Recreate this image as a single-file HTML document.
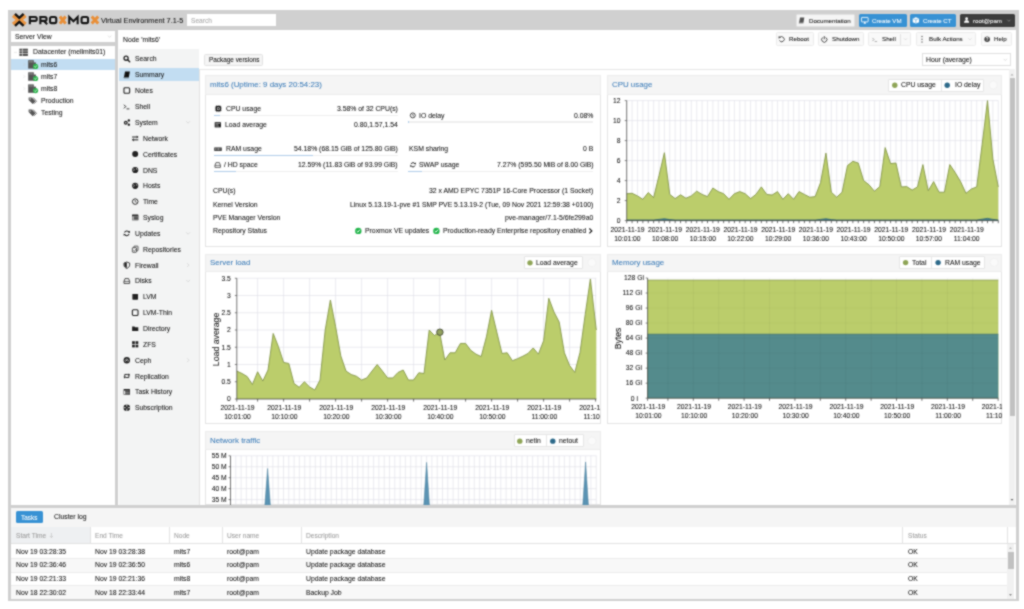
<!DOCTYPE html>
<html><head><meta charset="utf-8"><title>Proxmox VE</title>
<style>
html,body{margin:0;padding:0;width:1024px;height:609px;overflow:hidden;background:#fff;}
body{position:relative;font-family:"Liberation Sans",sans-serif;}
.t{position:absolute;white-space:nowrap;line-height:1;font-family:"Liberation Sans",sans-serif;will-change:transform;-webkit-text-stroke:0.06px;}
.r{position:absolute;}
.s{position:absolute;overflow:visible;}
#app{position:absolute;left:0;top:0;width:1024px;height:609px;overflow:hidden;background:#fff;filter:url(#soft);}
</style></head><body><svg width="0" height="0" style="position:absolute"><filter id="soft" x="0" y="0" width="1" height="1" color-interpolation-filters="sRGB"><feConvolveMatrix order="3" kernelMatrix="0.0500 0.1000 0.0500 0.1000 0.4000 0.1000 0.0500 0.1000 0.0500" preserveAlpha="true" edgeMode="duplicate"/></filter></svg><div id="app">
<div class="r" style="left:8.00px;top:10.00px;width:1011.00px;height:591.00px;background:#d0d0d0;"></div>
<div class="t" style="top:17.11px;font-size:7.3px;color:#111;left:101.00px;">Virtual Environment 7.1-5</div>
<div class="r" style="left:187.30px;top:14.40px;width:88.50px;height:11.80px;background:#fff;"></div>
<div class="t" style="top:17.60px;font-size:6.6px;color:#a5a5a5;left:190.50px;">Search</div>
<div class="r" style="left:795.70px;top:13.90px;width:59.80px;height:12.80px;background:#f5f5f5;border:0.6px solid #e2e2e2;box-sizing:border-box;border-radius:1.5px;"></div>
<div class="t" style="top:17.53px;font-size:6.2px;color:#111;left:809.30px;">Documentation</div>
<div class="r" style="left:858.50px;top:13.90px;width:48.20px;height:12.80px;background:#3892d4;border-radius:1.5px;"></div>
<div class="t" style="top:17.53px;font-size:6.2px;color:#fff;left:872.10px;">Create VM</div>
<div class="r" style="left:909.50px;top:13.90px;width:46.80px;height:12.80px;background:#3892d4;border-radius:1.5px;"></div>
<div class="t" style="top:17.53px;font-size:6.2px;color:#fff;left:923.30px;">Create CT</div>
<div class="r" style="left:959.80px;top:13.90px;width:55.10px;height:12.80px;background:#3d3d3d;border-radius:1.5px;"></div>
<div class="t" style="top:17.53px;font-size:6.2px;color:#fff;left:972.80px;">root@pam</div>
<div class="r" style="left:10.70px;top:30.70px;width:104.70px;height:11.30px;background:#fff;"></div>
<div class="t" style="top:33.58px;font-size:6.82px;color:#111;left:14.70px;">Server View</div>
<div class="r" style="left:10.70px;top:45.70px;width:104.70px;height:459.70px;background:#fff;"></div>
<div class="r" style="left:10.70px;top:58.60px;width:104.70px;height:11.00px;background:#c2ddf2;"></div>
<div class="t" style="top:49.38px;font-size:6.82px;color:#111;left:32.90px;">Datacenter (mellmits01)</div>
<div class="t" style="top:61.58px;font-size:6.82px;color:#111;left:40.80px;">mits6</div>
<div class="t" style="top:73.68px;font-size:6.82px;color:#111;left:40.80px;">mits7</div>
<div class="t" style="top:85.78px;font-size:6.82px;color:#111;left:40.80px;">mits8</div>
<div class="t" style="top:97.88px;font-size:6.82px;color:#111;left:41.10px;">Production</div>
<div class="t" style="top:109.98px;font-size:6.82px;color:#111;left:41.10px;">Testing</div>
<div class="r" style="left:118.30px;top:30.00px;width:897.70px;height:475.40px;background:#fff;"></div>
<div class="t" style="top:36.88px;font-size:6.82px;color:#111;left:122.70px;">Node 'mits6'</div>
<div class="r" style="left:118.50px;top:49.20px;width:80.50px;height:456.20px;background:#f3f4f4;"></div>
<div class="r" style="left:198.80px;top:49.20px;width:0.60px;height:456.20px;background:#e2e2e2;"></div>
<div class="r" style="left:118.50px;top:68.40px;width:80.10px;height:12.30px;background:#c2ddf2;"></div>
<div class="t" style="top:56.48px;font-size:6.82px;color:#111;left:134.80px;">Search</div>
<div class="t" style="top:72.08px;font-size:6.82px;color:#111;left:134.80px;">Summary</div>
<div class="t" style="top:88.08px;font-size:6.82px;color:#111;left:134.80px;">Notes</div>
<div class="t" style="top:103.88px;font-size:6.82px;color:#111;left:134.80px;">Shell</div>
<div class="t" style="top:119.78px;font-size:6.82px;color:#111;left:134.80px;">System</div>
<div class="t" style="top:135.88px;font-size:6.82px;color:#111;left:142.70px;">Network</div>
<div class="t" style="top:151.68px;font-size:6.82px;color:#111;left:142.70px;">Certificates</div>
<div class="t" style="top:167.58px;font-size:6.82px;color:#111;left:142.70px;">DNS</div>
<div class="t" style="top:183.38px;font-size:6.82px;color:#111;left:142.70px;">Hosts</div>
<div class="t" style="top:199.18px;font-size:6.82px;color:#111;left:142.70px;">Time</div>
<div class="t" style="top:214.98px;font-size:6.82px;color:#111;left:142.70px;">Syslog</div>
<div class="t" style="top:230.88px;font-size:6.82px;color:#111;left:134.80px;">Updates</div>
<div class="t" style="top:246.78px;font-size:6.82px;color:#111;left:142.70px;">Repositories</div>
<div class="t" style="top:262.68px;font-size:6.82px;color:#111;left:134.80px;">Firewall</div>
<div class="t" style="top:278.48px;font-size:6.82px;color:#111;left:134.80px;">Disks</div>
<div class="t" style="top:294.38px;font-size:6.82px;color:#111;left:142.70px;">LVM</div>
<div class="t" style="top:310.18px;font-size:6.82px;color:#111;left:142.70px;">LVM-Thin</div>
<div class="t" style="top:326.08px;font-size:6.82px;color:#111;left:142.70px;">Directory</div>
<div class="t" style="top:341.88px;font-size:6.82px;color:#111;left:142.70px;">ZFS</div>
<div class="t" style="top:357.78px;font-size:6.82px;color:#111;left:134.80px;">Ceph</div>
<div class="t" style="top:373.58px;font-size:6.82px;color:#111;left:134.80px;">Replication</div>
<div class="t" style="top:389.48px;font-size:6.82px;color:#111;left:134.80px;">Task History</div>
<div class="t" style="top:405.28px;font-size:6.82px;color:#111;left:134.80px;">Subscription</div>
<div class="r" style="left:199.40px;top:49.20px;width:816.60px;height:19.90px;background:#fff;"></div>
<div class="r" style="left:199.40px;top:68.70px;width:809.90px;height:0.70px;background:#e6e6e6;"></div>
<div class="r" style="left:204.00px;top:53.60px;width:58.70px;height:12.20px;background:#f5f5f5;border:0.6px solid #e2e2e2;box-sizing:border-box;border-radius:1.5px;"></div>
<div class="t" style="top:57.02px;font-size:6.4px;color:#111;left:208.50px;">Package versions</div>
<div class="r" style="left:921.90px;top:53.10px;width:89.60px;height:12.70px;background:#fff;border:0.6px solid #e0e0e0;box-sizing:border-box;"></div>
<div class="t" style="top:56.68px;font-size:6.82px;color:#111;left:926.00px;">Hour (average)</div>
<div class="r" style="left:775.70px;top:32.40px;width:38.10px;height:14.00px;background:#f9f9f9;border:0.6px solid #ececec;box-sizing:border-box;border-radius:1.5px;"></div>
<div class="t" style="top:36.33px;font-size:6.2px;color:#111;left:789.00px;">Reboot</div>
<div class="r" style="left:818.20px;top:32.40px;width:45.80px;height:14.00px;background:#f9f9f9;border:0.6px solid #ececec;box-sizing:border-box;border-radius:1.5px;"></div>
<div class="t" style="top:36.33px;font-size:6.2px;color:#111;left:831.60px;">Shutdown</div>
<div class="r" style="left:868.40px;top:32.40px;width:43.10px;height:14.00px;background:#f9f9f9;border:0.6px solid #ececec;box-sizing:border-box;border-radius:1.5px;"></div>
<div class="t" style="top:36.33px;font-size:6.2px;color:#111;left:881.70px;">Shell</div>
<div class="r" style="left:915.80px;top:32.40px;width:59.80px;height:14.00px;background:#f9f9f9;border:0.6px solid #ececec;box-sizing:border-box;border-radius:1.5px;"></div>
<div class="t" style="top:36.33px;font-size:6.2px;color:#111;left:928.60px;">Bulk Actions</div>
<div class="r" style="left:980.50px;top:32.40px;width:31.10px;height:14.00px;background:#f9f9f9;border:0.6px solid #ececec;box-sizing:border-box;border-radius:1.5px;"></div>
<div class="t" style="top:36.33px;font-size:6.2px;color:#111;left:993.90px;">Help</div>
<div class="r" style="left:900.00px;top:33.50px;width:0.50px;height:11.80px;background:#e2e2e2;"></div>
<div class="r" style="left:1009.30px;top:69.40px;width:6.00px;height:435.80px;background:#f1f1f1;"></div>
<div class="r" style="left:1009.60px;top:78.40px;width:5.30px;height:337.20px;background:#c1c1c1;"></div>
<div class="r" style="left:204.80px;top:74.60px;width:396.10px;height:172.60px;background:#fff;border:0.7px solid #e4e4e4;box-sizing:border-box;"></div>
<div class="r" style="left:204.80px;top:74.60px;width:396.10px;height:20.00px;background:#f5f5f5;border:0.6px solid #ededed;box-sizing:border-box;"></div>
<div class="t" style="top:81.28px;font-size:7.9px;color:#3e7db8;left:210.30px;">mits6 (Uptime: 9 days 20:54:23)</div>
<div class="r" style="left:606.60px;top:74.60px;width:395.90px;height:172.60px;background:#fff;border:0.7px solid #e4e4e4;box-sizing:border-box;"></div>
<div class="r" style="left:606.60px;top:74.60px;width:395.90px;height:20.00px;background:#f5f5f5;border:0.6px solid #ededed;box-sizing:border-box;"></div>
<div class="t" style="top:81.28px;font-size:7.9px;color:#3e7db8;left:612.10px;">CPU usage</div>
<div class="r" style="left:888.20px;top:78.50px;width:96.20px;height:13.00px;background:#fff;border:0.6px solid #e6e6e6;box-sizing:border-box;border-radius:1px;"></div>
<div class="r" style="left:941.10px;top:79.00px;width:0.60px;height:12.00px;background:#e6e6e6;"></div>
<div class="t" style="top:82.48px;font-size:6.82px;color:#111;left:901.20px;">CPU usage</div>
<div class="t" style="top:82.48px;font-size:6.82px;color:#111;left:954.50px;">IO delay</div>
<div class="r" style="left:204.80px;top:254.10px;width:396.10px;height:170.10px;background:#fff;border:0.7px solid #e4e4e4;box-sizing:border-box;"></div>
<div class="r" style="left:204.80px;top:254.10px;width:396.10px;height:17.50px;background:#f5f5f5;border:0.6px solid #ededed;box-sizing:border-box;"></div>
<div class="t" style="top:259.23px;font-size:7.9px;color:#3e7db8;left:210.30px;">Server load</div>
<div class="r" style="left:523.90px;top:256.30px;width:59.30px;height:12.70px;background:#fff;border:0.6px solid #e6e6e6;box-sizing:border-box;border-radius:1px;"></div>
<div class="t" style="top:260.13px;font-size:6.82px;color:#111;left:536.00px;">Load average</div>
<div class="r" style="left:606.60px;top:254.10px;width:395.90px;height:170.10px;background:#fff;border:0.7px solid #e4e4e4;box-sizing:border-box;"></div>
<div class="r" style="left:606.60px;top:254.10px;width:395.90px;height:17.50px;background:#f5f5f5;border:0.6px solid #ededed;box-sizing:border-box;"></div>
<div class="t" style="top:259.23px;font-size:7.9px;color:#3e7db8;left:612.10px;">Memory usage</div>
<div class="r" style="left:898.90px;top:256.20px;width:86.30px;height:12.40px;background:#fff;border:0.6px solid #e6e6e6;box-sizing:border-box;border-radius:1px;"></div>
<div class="r" style="left:931.40px;top:256.70px;width:0.60px;height:11.40px;background:#e6e6e6;"></div>
<div class="t" style="top:259.88px;font-size:6.82px;color:#111;left:912.00px;">Total</div>
<div class="t" style="top:259.88px;font-size:6.82px;color:#111;left:944.60px;">RAM usage</div>
<div class="r" style="left:204.80px;top:431.00px;width:396.10px;height:74.40px;background:#fff;border:0.7px solid #e4e4e4;box-sizing:border-box;"></div>
<div class="r" style="left:204.80px;top:431.00px;width:396.10px;height:18.60px;background:#f5f5f5;border:0.6px solid #ededed;box-sizing:border-box;"></div>
<div class="t" style="top:436.68px;font-size:7.9px;color:#3e7db8;left:210.30px;">Network traffic</div>
<div class="r" style="left:513.70px;top:434.40px;width:70.10px;height:13.10px;background:#fff;border:0.6px solid #e6e6e6;box-sizing:border-box;border-radius:1px;"></div>
<div class="r" style="left:546.20px;top:434.90px;width:0.60px;height:12.10px;background:#e6e6e6;"></div>
<div class="t" style="top:438.43px;font-size:6.82px;color:#111;left:526.20px;">netin</div>
<div class="t" style="top:438.43px;font-size:6.82px;color:#111;left:559.40px;">netout</div>
<svg class="s" style="left:0;top:0" width="1024" height="609" viewBox="0 0 1024 609" font-family="Liberation Sans, sans-serif"><line x1="626.70" y1="220.60" x2="998.30" y2="220.60" stroke="#dedee6" stroke-width="0.6"/><line x1="626.70" y1="200.60" x2="998.30" y2="200.60" stroke="#dedee6" stroke-width="0.6"/><line x1="626.70" y1="180.60" x2="998.30" y2="180.60" stroke="#dedee6" stroke-width="0.6"/><line x1="626.70" y1="160.60" x2="998.30" y2="160.60" stroke="#dedee6" stroke-width="0.6"/><line x1="626.70" y1="140.60" x2="998.30" y2="140.60" stroke="#dedee6" stroke-width="0.6"/><line x1="626.70" y1="120.60" x2="998.30" y2="120.60" stroke="#dedee6" stroke-width="0.6"/><line x1="626.70" y1="100.60" x2="998.30" y2="100.60" stroke="#dedee6" stroke-width="0.6"/><line x1="632.09" y1="100.60" x2="632.09" y2="220.60" stroke="#dedee6" stroke-width="0.6"/><line x1="637.47" y1="100.60" x2="637.47" y2="220.60" stroke="#dedee6" stroke-width="0.6"/><line x1="642.86" y1="100.60" x2="642.86" y2="220.60" stroke="#dedee6" stroke-width="0.6"/><line x1="648.24" y1="100.60" x2="648.24" y2="220.60" stroke="#dedee6" stroke-width="0.6"/><line x1="653.62" y1="100.60" x2="653.62" y2="220.60" stroke="#dedee6" stroke-width="0.6"/><line x1="659.01" y1="100.60" x2="659.01" y2="220.60" stroke="#dedee6" stroke-width="0.6"/><line x1="664.40" y1="100.60" x2="664.40" y2="220.60" stroke="#dedee6" stroke-width="0.6"/><line x1="669.78" y1="100.60" x2="669.78" y2="220.60" stroke="#dedee6" stroke-width="0.6"/><line x1="675.17" y1="100.60" x2="675.17" y2="220.60" stroke="#dedee6" stroke-width="0.6"/><line x1="680.55" y1="100.60" x2="680.55" y2="220.60" stroke="#dedee6" stroke-width="0.6"/><line x1="685.94" y1="100.60" x2="685.94" y2="220.60" stroke="#dedee6" stroke-width="0.6"/><line x1="691.32" y1="100.60" x2="691.32" y2="220.60" stroke="#dedee6" stroke-width="0.6"/><line x1="696.71" y1="100.60" x2="696.71" y2="220.60" stroke="#dedee6" stroke-width="0.6"/><line x1="702.09" y1="100.60" x2="702.09" y2="220.60" stroke="#dedee6" stroke-width="0.6"/><line x1="707.48" y1="100.60" x2="707.48" y2="220.60" stroke="#dedee6" stroke-width="0.6"/><line x1="712.86" y1="100.60" x2="712.86" y2="220.60" stroke="#dedee6" stroke-width="0.6"/><line x1="718.25" y1="100.60" x2="718.25" y2="220.60" stroke="#dedee6" stroke-width="0.6"/><line x1="723.63" y1="100.60" x2="723.63" y2="220.60" stroke="#dedee6" stroke-width="0.6"/><line x1="729.02" y1="100.60" x2="729.02" y2="220.60" stroke="#dedee6" stroke-width="0.6"/><line x1="734.40" y1="100.60" x2="734.40" y2="220.60" stroke="#dedee6" stroke-width="0.6"/><line x1="739.79" y1="100.60" x2="739.79" y2="220.60" stroke="#dedee6" stroke-width="0.6"/><line x1="745.17" y1="100.60" x2="745.17" y2="220.60" stroke="#dedee6" stroke-width="0.6"/><line x1="750.56" y1="100.60" x2="750.56" y2="220.60" stroke="#dedee6" stroke-width="0.6"/><line x1="755.94" y1="100.60" x2="755.94" y2="220.60" stroke="#dedee6" stroke-width="0.6"/><line x1="761.33" y1="100.60" x2="761.33" y2="220.60" stroke="#dedee6" stroke-width="0.6"/><line x1="766.71" y1="100.60" x2="766.71" y2="220.60" stroke="#dedee6" stroke-width="0.6"/><line x1="772.10" y1="100.60" x2="772.10" y2="220.60" stroke="#dedee6" stroke-width="0.6"/><line x1="777.48" y1="100.60" x2="777.48" y2="220.60" stroke="#dedee6" stroke-width="0.6"/><line x1="782.87" y1="100.60" x2="782.87" y2="220.60" stroke="#dedee6" stroke-width="0.6"/><line x1="788.25" y1="100.60" x2="788.25" y2="220.60" stroke="#dedee6" stroke-width="0.6"/><line x1="793.63" y1="100.60" x2="793.63" y2="220.60" stroke="#dedee6" stroke-width="0.6"/><line x1="799.02" y1="100.60" x2="799.02" y2="220.60" stroke="#dedee6" stroke-width="0.6"/><line x1="804.40" y1="100.60" x2="804.40" y2="220.60" stroke="#dedee6" stroke-width="0.6"/><line x1="809.79" y1="100.60" x2="809.79" y2="220.60" stroke="#dedee6" stroke-width="0.6"/><line x1="815.18" y1="100.60" x2="815.18" y2="220.60" stroke="#dedee6" stroke-width="0.6"/><line x1="820.56" y1="100.60" x2="820.56" y2="220.60" stroke="#dedee6" stroke-width="0.6"/><line x1="825.95" y1="100.60" x2="825.95" y2="220.60" stroke="#dedee6" stroke-width="0.6"/><line x1="831.33" y1="100.60" x2="831.33" y2="220.60" stroke="#dedee6" stroke-width="0.6"/><line x1="836.72" y1="100.60" x2="836.72" y2="220.60" stroke="#dedee6" stroke-width="0.6"/><line x1="842.10" y1="100.60" x2="842.10" y2="220.60" stroke="#dedee6" stroke-width="0.6"/><line x1="847.49" y1="100.60" x2="847.49" y2="220.60" stroke="#dedee6" stroke-width="0.6"/><line x1="852.87" y1="100.60" x2="852.87" y2="220.60" stroke="#dedee6" stroke-width="0.6"/><line x1="858.25" y1="100.60" x2="858.25" y2="220.60" stroke="#dedee6" stroke-width="0.6"/><line x1="863.64" y1="100.60" x2="863.64" y2="220.60" stroke="#dedee6" stroke-width="0.6"/><line x1="869.03" y1="100.60" x2="869.03" y2="220.60" stroke="#dedee6" stroke-width="0.6"/><line x1="874.41" y1="100.60" x2="874.41" y2="220.60" stroke="#dedee6" stroke-width="0.6"/><line x1="879.80" y1="100.60" x2="879.80" y2="220.60" stroke="#dedee6" stroke-width="0.6"/><line x1="885.18" y1="100.60" x2="885.18" y2="220.60" stroke="#dedee6" stroke-width="0.6"/><line x1="890.57" y1="100.60" x2="890.57" y2="220.60" stroke="#dedee6" stroke-width="0.6"/><line x1="895.95" y1="100.60" x2="895.95" y2="220.60" stroke="#dedee6" stroke-width="0.6"/><line x1="901.34" y1="100.60" x2="901.34" y2="220.60" stroke="#dedee6" stroke-width="0.6"/><line x1="906.72" y1="100.60" x2="906.72" y2="220.60" stroke="#dedee6" stroke-width="0.6"/><line x1="912.11" y1="100.60" x2="912.11" y2="220.60" stroke="#dedee6" stroke-width="0.6"/><line x1="917.49" y1="100.60" x2="917.49" y2="220.60" stroke="#dedee6" stroke-width="0.6"/><line x1="922.88" y1="100.60" x2="922.88" y2="220.60" stroke="#dedee6" stroke-width="0.6"/><line x1="928.26" y1="100.60" x2="928.26" y2="220.60" stroke="#dedee6" stroke-width="0.6"/><line x1="933.64" y1="100.60" x2="933.64" y2="220.60" stroke="#dedee6" stroke-width="0.6"/><line x1="939.03" y1="100.60" x2="939.03" y2="220.60" stroke="#dedee6" stroke-width="0.6"/><line x1="944.41" y1="100.60" x2="944.41" y2="220.60" stroke="#dedee6" stroke-width="0.6"/><line x1="949.80" y1="100.60" x2="949.80" y2="220.60" stroke="#dedee6" stroke-width="0.6"/><line x1="955.19" y1="100.60" x2="955.19" y2="220.60" stroke="#dedee6" stroke-width="0.6"/><line x1="960.57" y1="100.60" x2="960.57" y2="220.60" stroke="#dedee6" stroke-width="0.6"/><line x1="965.96" y1="100.60" x2="965.96" y2="220.60" stroke="#dedee6" stroke-width="0.6"/><line x1="971.34" y1="100.60" x2="971.34" y2="220.60" stroke="#dedee6" stroke-width="0.6"/><line x1="976.73" y1="100.60" x2="976.73" y2="220.60" stroke="#dedee6" stroke-width="0.6"/><line x1="982.11" y1="100.60" x2="982.11" y2="220.60" stroke="#dedee6" stroke-width="0.6"/><line x1="987.50" y1="100.60" x2="987.50" y2="220.60" stroke="#dedee6" stroke-width="0.6"/><line x1="992.88" y1="100.60" x2="992.88" y2="220.60" stroke="#dedee6" stroke-width="0.6"/><line x1="998.27" y1="100.60" x2="998.27" y2="220.60" stroke="#dedee6" stroke-width="0.6"/><polygon points="626.70,220.60 626.70,193.70 632.09,193.30 637.47,195.90 642.86,199.30 648.24,192.60 653.62,197.60 659.01,175.60 664.40,152.70 669.78,194.40 675.17,198.60 680.55,194.80 685.94,198.20 691.32,195.90 696.71,191.20 702.09,194.40 707.48,196.60 712.86,188.00 718.25,191.60 723.63,193.70 729.02,199.30 734.40,193.70 739.79,191.60 745.17,193.70 750.56,198.60 755.94,194.40 761.33,186.90 766.71,194.40 772.10,195.00 777.48,191.60 782.87,199.30 788.25,193.70 793.63,199.30 799.02,191.60 804.40,194.40 809.79,197.20 815.18,196.60 820.56,182.60 825.95,153.10 831.33,192.20 836.72,197.20 842.10,192.20 847.49,165.60 852.87,161.30 858.25,163.00 863.64,180.60 869.03,184.80 874.41,191.20 879.80,186.60 885.18,147.60 890.57,163.60 895.95,163.00 901.34,186.90 906.72,186.60 912.11,190.10 917.49,186.90 922.88,164.60 928.26,190.70 933.64,181.60 939.03,192.20 944.41,192.20 949.80,164.60 955.19,172.60 960.57,181.60 965.96,193.30 971.34,189.00 976.73,186.90 982.11,144.60 987.50,100.60 992.88,159.10 998.30,186.90 998.30,220.60" fill="#bbcd6b" fill-opacity="1"/><polyline points="626.70,193.70 632.09,193.30 637.47,195.90 642.86,199.30 648.24,192.60 653.62,197.60 659.01,175.60 664.40,152.70 669.78,194.40 675.17,198.60 680.55,194.80 685.94,198.20 691.32,195.90 696.71,191.20 702.09,194.40 707.48,196.60 712.86,188.00 718.25,191.60 723.63,193.70 729.02,199.30 734.40,193.70 739.79,191.60 745.17,193.70 750.56,198.60 755.94,194.40 761.33,186.90 766.71,194.40 772.10,195.00 777.48,191.60 782.87,199.30 788.25,193.70 793.63,199.30 799.02,191.60 804.40,194.40 809.79,197.20 815.18,196.60 820.56,182.60 825.95,153.10 831.33,192.20 836.72,197.20 842.10,192.20 847.49,165.60 852.87,161.30 858.25,163.00 863.64,180.60 869.03,184.80 874.41,191.20 879.80,186.60 885.18,147.60 890.57,163.60 895.95,163.00 901.34,186.90 906.72,186.60 912.11,190.10 917.49,186.90 922.88,164.60 928.26,190.70 933.64,181.60 939.03,192.20 944.41,192.20 949.80,164.60 955.19,172.60 960.57,181.60 965.96,193.30 971.34,189.00 976.73,186.90 982.11,144.60 987.50,100.60 992.88,159.10 998.30,186.90" fill="none" stroke="#7f9245" stroke-width="0.85"/><polygon points="626.70,220.60 626.70,220.00 632.09,220.00 637.47,220.00 642.86,220.00 648.24,220.00 653.62,220.00 659.01,219.40 664.40,218.80 669.78,219.60 675.17,220.00 680.55,220.00 685.94,220.00 691.32,220.00 696.71,220.00 702.09,220.00 707.48,220.00 712.86,220.00 718.25,220.00 723.63,220.00 729.02,220.00 734.40,220.00 739.79,220.00 745.17,220.00 750.56,220.00 755.94,220.00 761.33,220.00 766.71,220.00 772.10,220.00 777.48,220.00 782.87,220.00 788.25,220.00 793.63,220.00 799.02,220.00 804.40,220.00 809.79,220.00 815.18,220.00 820.56,219.40 825.95,218.80 831.33,219.60 836.72,220.00 842.10,220.00 847.49,220.00 852.87,220.00 858.25,220.00 863.64,220.00 869.03,220.00 874.41,220.00 879.80,220.00 885.18,220.00 890.57,220.00 895.95,220.00 901.34,220.00 906.72,220.00 912.11,220.00 917.49,220.00 922.88,220.00 928.26,220.00 933.64,220.00 939.03,220.00 944.41,220.00 949.80,220.00 955.19,220.00 960.57,220.00 965.96,220.00 971.34,220.00 976.73,220.00 982.11,219.20 987.50,218.40 992.88,219.40 998.30,220.00 998.30,220.60" fill="#3f7f8f" fill-opacity="1"/><polyline points="626.70,220.00 632.09,220.00 637.47,220.00 642.86,220.00 648.24,220.00 653.62,220.00 659.01,219.40 664.40,218.80 669.78,219.60 675.17,220.00 680.55,220.00 685.94,220.00 691.32,220.00 696.71,220.00 702.09,220.00 707.48,220.00 712.86,220.00 718.25,220.00 723.63,220.00 729.02,220.00 734.40,220.00 739.79,220.00 745.17,220.00 750.56,220.00 755.94,220.00 761.33,220.00 766.71,220.00 772.10,220.00 777.48,220.00 782.87,220.00 788.25,220.00 793.63,220.00 799.02,220.00 804.40,220.00 809.79,220.00 815.18,220.00 820.56,219.40 825.95,218.80 831.33,219.60 836.72,220.00 842.10,220.00 847.49,220.00 852.87,220.00 858.25,220.00 863.64,220.00 869.03,220.00 874.41,220.00 879.80,220.00 885.18,220.00 890.57,220.00 895.95,220.00 901.34,220.00 906.72,220.00 912.11,220.00 917.49,220.00 922.88,220.00 928.26,220.00 933.64,220.00 939.03,220.00 944.41,220.00 949.80,220.00 955.19,220.00 960.57,220.00 965.96,220.00 971.34,220.00 976.73,220.00 982.11,219.20 987.50,218.40 992.88,219.40 998.30,220.00" fill="none" stroke="#2f5f6f" stroke-width="0.8"/><line x1="626.70" y1="100.60" x2="626.70" y2="220.60" stroke="#3a3a3a" stroke-width="0.7"/><line x1="626.70" y1="220.60" x2="998.30" y2="220.60" stroke="#3a3a3a" stroke-width="0.7"/><line x1="624.70" y1="220.60" x2="626.70" y2="220.60" stroke="#3a3a3a" stroke-width="0.6"/><text x="620.40" y="222.90" font-size="6.75" text-anchor="end" fill="#111" stroke="#111" stroke-width="0.06" >0</text><line x1="624.70" y1="200.60" x2="626.70" y2="200.60" stroke="#3a3a3a" stroke-width="0.6"/><text x="620.40" y="202.90" font-size="6.75" text-anchor="end" fill="#111" stroke="#111" stroke-width="0.06" >2</text><line x1="624.70" y1="180.60" x2="626.70" y2="180.60" stroke="#3a3a3a" stroke-width="0.6"/><text x="620.40" y="182.90" font-size="6.75" text-anchor="end" fill="#111" stroke="#111" stroke-width="0.06" >4</text><line x1="624.70" y1="160.60" x2="626.70" y2="160.60" stroke="#3a3a3a" stroke-width="0.6"/><text x="620.40" y="162.90" font-size="6.75" text-anchor="end" fill="#111" stroke="#111" stroke-width="0.06" >6</text><line x1="624.70" y1="140.60" x2="626.70" y2="140.60" stroke="#3a3a3a" stroke-width="0.6"/><text x="620.40" y="142.90" font-size="6.75" text-anchor="end" fill="#111" stroke="#111" stroke-width="0.06" >8</text><line x1="624.70" y1="120.60" x2="626.70" y2="120.60" stroke="#3a3a3a" stroke-width="0.6"/><text x="620.40" y="122.90" font-size="6.75" text-anchor="end" fill="#111" stroke="#111" stroke-width="0.06" >10</text><line x1="624.70" y1="100.60" x2="626.70" y2="100.60" stroke="#3a3a3a" stroke-width="0.6"/><text x="620.40" y="102.90" font-size="6.75" text-anchor="end" fill="#111" stroke="#111" stroke-width="0.06" >12</text><line x1="626.70" y1="220.60" x2="626.70" y2="223.20" stroke="#3a3a3a" stroke-width="0.7"/><line x1="632.09" y1="220.60" x2="632.09" y2="223.20" stroke="#3a3a3a" stroke-width="0.7"/><line x1="637.47" y1="220.60" x2="637.47" y2="223.20" stroke="#3a3a3a" stroke-width="0.7"/><line x1="642.86" y1="220.60" x2="642.86" y2="223.20" stroke="#3a3a3a" stroke-width="0.7"/><line x1="648.24" y1="220.60" x2="648.24" y2="223.20" stroke="#3a3a3a" stroke-width="0.7"/><line x1="653.62" y1="220.60" x2="653.62" y2="223.20" stroke="#3a3a3a" stroke-width="0.7"/><line x1="659.01" y1="220.60" x2="659.01" y2="223.20" stroke="#3a3a3a" stroke-width="0.7"/><line x1="664.40" y1="220.60" x2="664.40" y2="223.20" stroke="#3a3a3a" stroke-width="0.7"/><line x1="669.78" y1="220.60" x2="669.78" y2="223.20" stroke="#3a3a3a" stroke-width="0.7"/><line x1="675.17" y1="220.60" x2="675.17" y2="223.20" stroke="#3a3a3a" stroke-width="0.7"/><line x1="680.55" y1="220.60" x2="680.55" y2="223.20" stroke="#3a3a3a" stroke-width="0.7"/><line x1="685.94" y1="220.60" x2="685.94" y2="223.20" stroke="#3a3a3a" stroke-width="0.7"/><line x1="691.32" y1="220.60" x2="691.32" y2="223.20" stroke="#3a3a3a" stroke-width="0.7"/><line x1="696.71" y1="220.60" x2="696.71" y2="223.20" stroke="#3a3a3a" stroke-width="0.7"/><line x1="702.09" y1="220.60" x2="702.09" y2="223.20" stroke="#3a3a3a" stroke-width="0.7"/><line x1="707.48" y1="220.60" x2="707.48" y2="223.20" stroke="#3a3a3a" stroke-width="0.7"/><line x1="712.86" y1="220.60" x2="712.86" y2="223.20" stroke="#3a3a3a" stroke-width="0.7"/><line x1="718.25" y1="220.60" x2="718.25" y2="223.20" stroke="#3a3a3a" stroke-width="0.7"/><line x1="723.63" y1="220.60" x2="723.63" y2="223.20" stroke="#3a3a3a" stroke-width="0.7"/><line x1="729.02" y1="220.60" x2="729.02" y2="223.20" stroke="#3a3a3a" stroke-width="0.7"/><line x1="734.40" y1="220.60" x2="734.40" y2="223.20" stroke="#3a3a3a" stroke-width="0.7"/><line x1="739.79" y1="220.60" x2="739.79" y2="223.20" stroke="#3a3a3a" stroke-width="0.7"/><line x1="745.17" y1="220.60" x2="745.17" y2="223.20" stroke="#3a3a3a" stroke-width="0.7"/><line x1="750.56" y1="220.60" x2="750.56" y2="223.20" stroke="#3a3a3a" stroke-width="0.7"/><line x1="755.94" y1="220.60" x2="755.94" y2="223.20" stroke="#3a3a3a" stroke-width="0.7"/><line x1="761.33" y1="220.60" x2="761.33" y2="223.20" stroke="#3a3a3a" stroke-width="0.7"/><line x1="766.71" y1="220.60" x2="766.71" y2="223.20" stroke="#3a3a3a" stroke-width="0.7"/><line x1="772.10" y1="220.60" x2="772.10" y2="223.20" stroke="#3a3a3a" stroke-width="0.7"/><line x1="777.48" y1="220.60" x2="777.48" y2="223.20" stroke="#3a3a3a" stroke-width="0.7"/><line x1="782.87" y1="220.60" x2="782.87" y2="223.20" stroke="#3a3a3a" stroke-width="0.7"/><line x1="788.25" y1="220.60" x2="788.25" y2="223.20" stroke="#3a3a3a" stroke-width="0.7"/><line x1="793.63" y1="220.60" x2="793.63" y2="223.20" stroke="#3a3a3a" stroke-width="0.7"/><line x1="799.02" y1="220.60" x2="799.02" y2="223.20" stroke="#3a3a3a" stroke-width="0.7"/><line x1="804.40" y1="220.60" x2="804.40" y2="223.20" stroke="#3a3a3a" stroke-width="0.7"/><line x1="809.79" y1="220.60" x2="809.79" y2="223.20" stroke="#3a3a3a" stroke-width="0.7"/><line x1="815.18" y1="220.60" x2="815.18" y2="223.20" stroke="#3a3a3a" stroke-width="0.7"/><line x1="820.56" y1="220.60" x2="820.56" y2="223.20" stroke="#3a3a3a" stroke-width="0.7"/><line x1="825.95" y1="220.60" x2="825.95" y2="223.20" stroke="#3a3a3a" stroke-width="0.7"/><line x1="831.33" y1="220.60" x2="831.33" y2="223.20" stroke="#3a3a3a" stroke-width="0.7"/><line x1="836.72" y1="220.60" x2="836.72" y2="223.20" stroke="#3a3a3a" stroke-width="0.7"/><line x1="842.10" y1="220.60" x2="842.10" y2="223.20" stroke="#3a3a3a" stroke-width="0.7"/><line x1="847.49" y1="220.60" x2="847.49" y2="223.20" stroke="#3a3a3a" stroke-width="0.7"/><line x1="852.87" y1="220.60" x2="852.87" y2="223.20" stroke="#3a3a3a" stroke-width="0.7"/><line x1="858.25" y1="220.60" x2="858.25" y2="223.20" stroke="#3a3a3a" stroke-width="0.7"/><line x1="863.64" y1="220.60" x2="863.64" y2="223.20" stroke="#3a3a3a" stroke-width="0.7"/><line x1="869.03" y1="220.60" x2="869.03" y2="223.20" stroke="#3a3a3a" stroke-width="0.7"/><line x1="874.41" y1="220.60" x2="874.41" y2="223.20" stroke="#3a3a3a" stroke-width="0.7"/><line x1="879.80" y1="220.60" x2="879.80" y2="223.20" stroke="#3a3a3a" stroke-width="0.7"/><line x1="885.18" y1="220.60" x2="885.18" y2="223.20" stroke="#3a3a3a" stroke-width="0.7"/><line x1="890.57" y1="220.60" x2="890.57" y2="223.20" stroke="#3a3a3a" stroke-width="0.7"/><line x1="895.95" y1="220.60" x2="895.95" y2="223.20" stroke="#3a3a3a" stroke-width="0.7"/><line x1="901.34" y1="220.60" x2="901.34" y2="223.20" stroke="#3a3a3a" stroke-width="0.7"/><line x1="906.72" y1="220.60" x2="906.72" y2="223.20" stroke="#3a3a3a" stroke-width="0.7"/><line x1="912.11" y1="220.60" x2="912.11" y2="223.20" stroke="#3a3a3a" stroke-width="0.7"/><line x1="917.49" y1="220.60" x2="917.49" y2="223.20" stroke="#3a3a3a" stroke-width="0.7"/><line x1="922.88" y1="220.60" x2="922.88" y2="223.20" stroke="#3a3a3a" stroke-width="0.7"/><line x1="928.26" y1="220.60" x2="928.26" y2="223.20" stroke="#3a3a3a" stroke-width="0.7"/><line x1="933.64" y1="220.60" x2="933.64" y2="223.20" stroke="#3a3a3a" stroke-width="0.7"/><line x1="939.03" y1="220.60" x2="939.03" y2="223.20" stroke="#3a3a3a" stroke-width="0.7"/><line x1="944.41" y1="220.60" x2="944.41" y2="223.20" stroke="#3a3a3a" stroke-width="0.7"/><line x1="949.80" y1="220.60" x2="949.80" y2="223.20" stroke="#3a3a3a" stroke-width="0.7"/><line x1="955.19" y1="220.60" x2="955.19" y2="223.20" stroke="#3a3a3a" stroke-width="0.7"/><line x1="960.57" y1="220.60" x2="960.57" y2="223.20" stroke="#3a3a3a" stroke-width="0.7"/><line x1="965.96" y1="220.60" x2="965.96" y2="223.20" stroke="#3a3a3a" stroke-width="0.7"/><line x1="971.34" y1="220.60" x2="971.34" y2="223.20" stroke="#3a3a3a" stroke-width="0.7"/><line x1="976.73" y1="220.60" x2="976.73" y2="223.20" stroke="#3a3a3a" stroke-width="0.7"/><line x1="982.11" y1="220.60" x2="982.11" y2="223.20" stroke="#3a3a3a" stroke-width="0.7"/><line x1="987.50" y1="220.60" x2="987.50" y2="223.20" stroke="#3a3a3a" stroke-width="0.7"/><line x1="992.88" y1="220.60" x2="992.88" y2="223.20" stroke="#3a3a3a" stroke-width="0.7"/><line x1="998.27" y1="220.60" x2="998.27" y2="223.20" stroke="#3a3a3a" stroke-width="0.7"/><text x="627.40" y="232.20" font-size="6.75" text-anchor="middle" fill="#111" stroke="#111" stroke-width="0.06" >2021-11-19</text><text x="627.40" y="240.50" font-size="6.75" text-anchor="middle" fill="#111" stroke="#111" stroke-width="0.06" >10:01:00</text><text x="665.10" y="232.20" font-size="6.75" text-anchor="middle" fill="#111" stroke="#111" stroke-width="0.06" >2021-11-19</text><text x="665.10" y="240.50" font-size="6.75" text-anchor="middle" fill="#111" stroke="#111" stroke-width="0.06" >10:08:00</text><text x="702.79" y="232.20" font-size="6.75" text-anchor="middle" fill="#111" stroke="#111" stroke-width="0.06" >2021-11-19</text><text x="702.79" y="240.50" font-size="6.75" text-anchor="middle" fill="#111" stroke="#111" stroke-width="0.06" >10:15:00</text><text x="740.49" y="232.20" font-size="6.75" text-anchor="middle" fill="#111" stroke="#111" stroke-width="0.06" >2021-11-19</text><text x="740.49" y="240.50" font-size="6.75" text-anchor="middle" fill="#111" stroke="#111" stroke-width="0.06" >10:22:00</text><text x="778.18" y="232.20" font-size="6.75" text-anchor="middle" fill="#111" stroke="#111" stroke-width="0.06" >2021-11-19</text><text x="778.18" y="240.50" font-size="6.75" text-anchor="middle" fill="#111" stroke="#111" stroke-width="0.06" >10:29:00</text><text x="815.88" y="232.20" font-size="6.75" text-anchor="middle" fill="#111" stroke="#111" stroke-width="0.06" >2021-11-19</text><text x="815.88" y="240.50" font-size="6.75" text-anchor="middle" fill="#111" stroke="#111" stroke-width="0.06" >10:36:00</text><text x="853.57" y="232.20" font-size="6.75" text-anchor="middle" fill="#111" stroke="#111" stroke-width="0.06" >2021-11-19</text><text x="853.57" y="240.50" font-size="6.75" text-anchor="middle" fill="#111" stroke="#111" stroke-width="0.06" >10:43:00</text><text x="891.27" y="232.20" font-size="6.75" text-anchor="middle" fill="#111" stroke="#111" stroke-width="0.06" >2021-11-19</text><text x="891.27" y="240.50" font-size="6.75" text-anchor="middle" fill="#111" stroke="#111" stroke-width="0.06" >10:50:00</text><text x="928.96" y="232.20" font-size="6.75" text-anchor="middle" fill="#111" stroke="#111" stroke-width="0.06" >2021-11-19</text><text x="928.96" y="240.50" font-size="6.75" text-anchor="middle" fill="#111" stroke="#111" stroke-width="0.06" >10:57:00</text><text x="966.66" y="232.20" font-size="6.75" text-anchor="middle" fill="#111" stroke="#111" stroke-width="0.06" >2021-11-19</text><text x="966.66" y="240.50" font-size="6.75" text-anchor="middle" fill="#111" stroke="#111" stroke-width="0.06" >11:04:00</text><line x1="236.80" y1="399.00" x2="596.30" y2="399.00" stroke="#dedee6" stroke-width="0.6"/><line x1="236.80" y1="381.75" x2="596.30" y2="381.75" stroke="#dedee6" stroke-width="0.6"/><line x1="236.80" y1="364.50" x2="596.30" y2="364.50" stroke="#dedee6" stroke-width="0.6"/><line x1="236.80" y1="347.25" x2="596.30" y2="347.25" stroke="#dedee6" stroke-width="0.6"/><line x1="236.80" y1="330.00" x2="596.30" y2="330.00" stroke="#dedee6" stroke-width="0.6"/><line x1="236.80" y1="312.75" x2="596.30" y2="312.75" stroke="#dedee6" stroke-width="0.6"/><line x1="236.80" y1="295.50" x2="596.30" y2="295.50" stroke="#dedee6" stroke-width="0.6"/><line x1="236.80" y1="278.25" x2="596.30" y2="278.25" stroke="#dedee6" stroke-width="0.6"/><line x1="257.60" y1="278.20" x2="257.60" y2="399.00" stroke="#dedee6" stroke-width="0.6"/><line x1="283.60" y1="278.20" x2="283.60" y2="399.00" stroke="#dedee6" stroke-width="0.6"/><line x1="309.60" y1="278.20" x2="309.60" y2="399.00" stroke="#dedee6" stroke-width="0.6"/><line x1="335.60" y1="278.20" x2="335.60" y2="399.00" stroke="#dedee6" stroke-width="0.6"/><line x1="361.60" y1="278.20" x2="361.60" y2="399.00" stroke="#dedee6" stroke-width="0.6"/><line x1="387.60" y1="278.20" x2="387.60" y2="399.00" stroke="#dedee6" stroke-width="0.6"/><line x1="413.60" y1="278.20" x2="413.60" y2="399.00" stroke="#dedee6" stroke-width="0.6"/><line x1="439.60" y1="278.20" x2="439.60" y2="399.00" stroke="#dedee6" stroke-width="0.6"/><line x1="465.60" y1="278.20" x2="465.60" y2="399.00" stroke="#dedee6" stroke-width="0.6"/><line x1="491.60" y1="278.20" x2="491.60" y2="399.00" stroke="#dedee6" stroke-width="0.6"/><line x1="517.60" y1="278.20" x2="517.60" y2="399.00" stroke="#dedee6" stroke-width="0.6"/><line x1="543.60" y1="278.20" x2="543.60" y2="399.00" stroke="#dedee6" stroke-width="0.6"/><line x1="569.60" y1="278.20" x2="569.60" y2="399.00" stroke="#dedee6" stroke-width="0.6"/><line x1="595.60" y1="278.20" x2="595.60" y2="399.00" stroke="#dedee6" stroke-width="0.6"/><polygon points="236.80,399.00 236.80,371.06 242.00,373.47 247.20,376.57 252.40,384.51 257.60,371.75 262.80,381.06 268.00,370.02 273.20,333.45 278.40,346.56 283.60,362.43 288.80,363.46 294.00,383.48 299.20,387.27 304.40,381.75 309.60,386.93 314.80,390.03 320.00,380.02 325.20,330.00 330.40,299.99 335.60,326.55 340.80,355.88 346.00,371.06 351.20,374.50 356.40,376.23 361.60,380.02 366.80,377.95 372.00,371.06 377.20,364.50 382.40,371.06 387.60,377.95 392.80,377.95 398.00,372.44 403.20,370.02 408.40,380.02 413.60,380.02 418.80,372.78 424.00,373.47 429.20,330.00 434.40,335.52 439.60,332.07 444.80,360.01 450.00,352.77 455.20,352.77 460.40,343.45 465.60,343.45 470.80,350.36 476.00,354.15 481.20,356.56 486.40,336.90 491.60,310.34 496.80,332.07 502.00,353.46 507.20,352.77 512.40,360.70 517.60,358.63 522.80,356.22 528.00,353.46 533.20,347.94 538.40,354.15 543.60,340.69 548.80,298.26 554.00,312.06 559.20,322.06 564.40,352.77 569.60,365.54 574.80,372.44 580.00,352.43 585.20,314.48 590.40,278.94 596.30,330.00 596.30,399.00" fill="#bbcd6b" fill-opacity="1"/><polyline points="236.80,371.06 242.00,373.47 247.20,376.57 252.40,384.51 257.60,371.75 262.80,381.06 268.00,370.02 273.20,333.45 278.40,346.56 283.60,362.43 288.80,363.46 294.00,383.48 299.20,387.27 304.40,381.75 309.60,386.93 314.80,390.03 320.00,380.02 325.20,330.00 330.40,299.99 335.60,326.55 340.80,355.88 346.00,371.06 351.20,374.50 356.40,376.23 361.60,380.02 366.80,377.95 372.00,371.06 377.20,364.50 382.40,371.06 387.60,377.95 392.80,377.95 398.00,372.44 403.20,370.02 408.40,380.02 413.60,380.02 418.80,372.78 424.00,373.47 429.20,330.00 434.40,335.52 439.60,332.07 444.80,360.01 450.00,352.77 455.20,352.77 460.40,343.45 465.60,343.45 470.80,350.36 476.00,354.15 481.20,356.56 486.40,336.90 491.60,310.34 496.80,332.07 502.00,353.46 507.20,352.77 512.40,360.70 517.60,358.63 522.80,356.22 528.00,353.46 533.20,347.94 538.40,354.15 543.60,340.69 548.80,298.26 554.00,312.06 559.20,322.06 564.40,352.77 569.60,365.54 574.80,372.44 580.00,352.43 585.20,314.48 590.40,278.94 596.30,330.00" fill="none" stroke="#7f9245" stroke-width="0.85"/><line x1="236.80" y1="278.20" x2="236.80" y2="399.00" stroke="#3a3a3a" stroke-width="0.7"/><line x1="236.80" y1="399.00" x2="596.30" y2="399.00" stroke="#3a3a3a" stroke-width="0.7"/><line x1="234.80" y1="399.00" x2="236.80" y2="399.00" stroke="#3a3a3a" stroke-width="0.6"/><text x="230.80" y="401.30" font-size="6.75" text-anchor="end" fill="#111" stroke="#111" stroke-width="0.06" >0</text><line x1="234.80" y1="381.75" x2="236.80" y2="381.75" stroke="#3a3a3a" stroke-width="0.6"/><text x="230.80" y="384.05" font-size="6.75" text-anchor="end" fill="#111" stroke="#111" stroke-width="0.06" >0.5</text><line x1="234.80" y1="364.50" x2="236.80" y2="364.50" stroke="#3a3a3a" stroke-width="0.6"/><text x="230.80" y="366.80" font-size="6.75" text-anchor="end" fill="#111" stroke="#111" stroke-width="0.06" >1</text><line x1="234.80" y1="347.25" x2="236.80" y2="347.25" stroke="#3a3a3a" stroke-width="0.6"/><text x="230.80" y="349.55" font-size="6.75" text-anchor="end" fill="#111" stroke="#111" stroke-width="0.06" >1.5</text><line x1="234.80" y1="330.00" x2="236.80" y2="330.00" stroke="#3a3a3a" stroke-width="0.6"/><text x="230.80" y="332.30" font-size="6.75" text-anchor="end" fill="#111" stroke="#111" stroke-width="0.06" >2</text><line x1="234.80" y1="312.75" x2="236.80" y2="312.75" stroke="#3a3a3a" stroke-width="0.6"/><text x="230.80" y="315.05" font-size="6.75" text-anchor="end" fill="#111" stroke="#111" stroke-width="0.06" >2.5</text><line x1="234.80" y1="295.50" x2="236.80" y2="295.50" stroke="#3a3a3a" stroke-width="0.6"/><text x="230.80" y="297.80" font-size="6.75" text-anchor="end" fill="#111" stroke="#111" stroke-width="0.06" >3</text><line x1="234.80" y1="278.25" x2="236.80" y2="278.25" stroke="#3a3a3a" stroke-width="0.6"/><text x="230.80" y="280.55" font-size="6.75" text-anchor="end" fill="#111" stroke="#111" stroke-width="0.06" >3.5</text><line x1="236.80" y1="399.00" x2="236.80" y2="401.60" stroke="#3a3a3a" stroke-width="0.7"/><line x1="257.60" y1="399.00" x2="257.60" y2="401.60" stroke="#3a3a3a" stroke-width="0.7"/><line x1="283.60" y1="399.00" x2="283.60" y2="401.60" stroke="#3a3a3a" stroke-width="0.7"/><line x1="309.60" y1="399.00" x2="309.60" y2="401.60" stroke="#3a3a3a" stroke-width="0.7"/><line x1="335.60" y1="399.00" x2="335.60" y2="401.60" stroke="#3a3a3a" stroke-width="0.7"/><line x1="361.60" y1="399.00" x2="361.60" y2="401.60" stroke="#3a3a3a" stroke-width="0.7"/><line x1="387.60" y1="399.00" x2="387.60" y2="401.60" stroke="#3a3a3a" stroke-width="0.7"/><line x1="413.60" y1="399.00" x2="413.60" y2="401.60" stroke="#3a3a3a" stroke-width="0.7"/><line x1="439.60" y1="399.00" x2="439.60" y2="401.60" stroke="#3a3a3a" stroke-width="0.7"/><line x1="465.60" y1="399.00" x2="465.60" y2="401.60" stroke="#3a3a3a" stroke-width="0.7"/><line x1="491.60" y1="399.00" x2="491.60" y2="401.60" stroke="#3a3a3a" stroke-width="0.7"/><line x1="517.60" y1="399.00" x2="517.60" y2="401.60" stroke="#3a3a3a" stroke-width="0.7"/><line x1="543.60" y1="399.00" x2="543.60" y2="401.60" stroke="#3a3a3a" stroke-width="0.7"/><line x1="569.60" y1="399.00" x2="569.60" y2="401.60" stroke="#3a3a3a" stroke-width="0.7"/><line x1="595.60" y1="399.00" x2="595.60" y2="401.60" stroke="#3a3a3a" stroke-width="0.7"/><clipPath id="c1"><rect x="0" y="0" width="600.1" height="609"/></clipPath><g clip-path="url(#c1)"><text x="237.50" y="409.80" font-size="6.75" text-anchor="middle" fill="#111" stroke="#111" stroke-width="0.06" >2021-11-19</text><text x="237.50" y="418.50" font-size="6.75" text-anchor="middle" fill="#111" stroke="#111" stroke-width="0.06" >10:01:00</text><text x="284.30" y="409.80" font-size="6.75" text-anchor="middle" fill="#111" stroke="#111" stroke-width="0.06" >2021-11-19</text><text x="284.30" y="418.50" font-size="6.75" text-anchor="middle" fill="#111" stroke="#111" stroke-width="0.06" >10:10:00</text><text x="336.30" y="409.80" font-size="6.75" text-anchor="middle" fill="#111" stroke="#111" stroke-width="0.06" >2021-11-19</text><text x="336.30" y="418.50" font-size="6.75" text-anchor="middle" fill="#111" stroke="#111" stroke-width="0.06" >10:20:00</text><text x="388.30" y="409.80" font-size="6.75" text-anchor="middle" fill="#111" stroke="#111" stroke-width="0.06" >2021-11-19</text><text x="388.30" y="418.50" font-size="6.75" text-anchor="middle" fill="#111" stroke="#111" stroke-width="0.06" >10:30:00</text><text x="440.30" y="409.80" font-size="6.75" text-anchor="middle" fill="#111" stroke="#111" stroke-width="0.06" >2021-11-19</text><text x="440.30" y="418.50" font-size="6.75" text-anchor="middle" fill="#111" stroke="#111" stroke-width="0.06" >10:40:00</text><text x="492.30" y="409.80" font-size="6.75" text-anchor="middle" fill="#111" stroke="#111" stroke-width="0.06" >2021-11-19</text><text x="492.30" y="418.50" font-size="6.75" text-anchor="middle" fill="#111" stroke="#111" stroke-width="0.06" >10:50:00</text><text x="544.30" y="409.80" font-size="6.75" text-anchor="middle" fill="#111" stroke="#111" stroke-width="0.06" >2021-11-19</text><text x="544.30" y="418.50" font-size="6.75" text-anchor="middle" fill="#111" stroke="#111" stroke-width="0.06" >11:00:00</text><text x="596.30" y="409.80" font-size="6.75" text-anchor="middle" fill="#111" stroke="#111" stroke-width="0.06" >2021-11-19</text><text x="596.30" y="418.50" font-size="6.75" text-anchor="middle" fill="#111" stroke="#111" stroke-width="0.06" >11:10:00</text></g><circle cx="439.9" cy="332.2" r="3.2" fill="#93a35e" stroke="#4f5540" stroke-width="1.0"/><text x="219.40" y="339.40" font-size="8.75" text-anchor="middle" fill="#111" stroke="#111" stroke-width="0.06" transform="rotate(-90 219.4 339.4)">Load average</text><rect x="647.6" y="280.07" width="350.70" height="118.13" fill="#bbcd6b"/><rect x="647.6" y="334.20" width="350.70" height="64.00" fill="#548b8c"/><line x1="647.60" y1="280.07" x2="998.30" y2="280.07" stroke="#7f9245" stroke-width="0.7"/><line x1="647.60" y1="334.20" x2="998.30" y2="334.20" stroke="#3f6f70" stroke-width="0.7"/><line x1="667.92" y1="278.00" x2="667.92" y2="398.20" stroke="rgba(0,0,0,0.07)" stroke-width="0.6"/><line x1="693.32" y1="278.00" x2="693.32" y2="398.20" stroke="rgba(0,0,0,0.07)" stroke-width="0.6"/><line x1="718.72" y1="278.00" x2="718.72" y2="398.20" stroke="rgba(0,0,0,0.07)" stroke-width="0.6"/><line x1="744.12" y1="278.00" x2="744.12" y2="398.20" stroke="rgba(0,0,0,0.07)" stroke-width="0.6"/><line x1="769.52" y1="278.00" x2="769.52" y2="398.20" stroke="rgba(0,0,0,0.07)" stroke-width="0.6"/><line x1="794.92" y1="278.00" x2="794.92" y2="398.20" stroke="rgba(0,0,0,0.07)" stroke-width="0.6"/><line x1="820.32" y1="278.00" x2="820.32" y2="398.20" stroke="rgba(0,0,0,0.07)" stroke-width="0.6"/><line x1="845.72" y1="278.00" x2="845.72" y2="398.20" stroke="rgba(0,0,0,0.07)" stroke-width="0.6"/><line x1="871.12" y1="278.00" x2="871.12" y2="398.20" stroke="rgba(0,0,0,0.07)" stroke-width="0.6"/><line x1="896.52" y1="278.00" x2="896.52" y2="398.20" stroke="rgba(0,0,0,0.07)" stroke-width="0.6"/><line x1="921.92" y1="278.00" x2="921.92" y2="398.20" stroke="rgba(0,0,0,0.07)" stroke-width="0.6"/><line x1="947.32" y1="278.00" x2="947.32" y2="398.20" stroke="rgba(0,0,0,0.07)" stroke-width="0.6"/><line x1="972.72" y1="278.00" x2="972.72" y2="398.20" stroke="rgba(0,0,0,0.07)" stroke-width="0.6"/><line x1="998.12" y1="278.00" x2="998.12" y2="398.20" stroke="rgba(0,0,0,0.07)" stroke-width="0.6"/><line x1="647.60" y1="383.18" x2="998.30" y2="383.18" stroke="rgba(0,0,0,0.05)" stroke-width="0.6"/><line x1="647.60" y1="368.15" x2="998.30" y2="368.15" stroke="rgba(0,0,0,0.05)" stroke-width="0.6"/><line x1="647.60" y1="353.12" x2="998.30" y2="353.12" stroke="rgba(0,0,0,0.05)" stroke-width="0.6"/><line x1="647.60" y1="338.10" x2="998.30" y2="338.10" stroke="rgba(0,0,0,0.05)" stroke-width="0.6"/><line x1="647.60" y1="323.07" x2="998.30" y2="323.07" stroke="rgba(0,0,0,0.05)" stroke-width="0.6"/><line x1="647.60" y1="308.05" x2="998.30" y2="308.05" stroke="rgba(0,0,0,0.05)" stroke-width="0.6"/><line x1="647.60" y1="293.02" x2="998.30" y2="293.02" stroke="rgba(0,0,0,0.05)" stroke-width="0.6"/><line x1="647.60" y1="278.00" x2="998.30" y2="278.00" stroke="rgba(0,0,0,0.05)" stroke-width="0.6"/><line x1="647.60" y1="278.00" x2="647.60" y2="398.20" stroke="#3a3a3a" stroke-width="0.7"/><line x1="647.60" y1="398.20" x2="998.30" y2="398.20" stroke="#3a3a3a" stroke-width="0.7"/><line x1="645.60" y1="398.20" x2="647.60" y2="398.20" stroke="#3a3a3a" stroke-width="0.6"/><text x="638.00" y="400.50" font-size="6.75" text-anchor="end" fill="#111" stroke="#111" stroke-width="0.06" >0 i</text><line x1="645.60" y1="383.18" x2="647.60" y2="383.18" stroke="#3a3a3a" stroke-width="0.6"/><text x="642.00" y="385.48" font-size="6.75" text-anchor="end" fill="#111" stroke="#111" stroke-width="0.06" >16 Gi</text><line x1="645.60" y1="368.15" x2="647.60" y2="368.15" stroke="#3a3a3a" stroke-width="0.6"/><text x="642.00" y="370.45" font-size="6.75" text-anchor="end" fill="#111" stroke="#111" stroke-width="0.06" >32 Gi</text><line x1="645.60" y1="353.12" x2="647.60" y2="353.12" stroke="#3a3a3a" stroke-width="0.6"/><text x="642.00" y="355.43" font-size="6.75" text-anchor="end" fill="#111" stroke="#111" stroke-width="0.06" >48 Gi</text><line x1="645.60" y1="338.10" x2="647.60" y2="338.10" stroke="#3a3a3a" stroke-width="0.6"/><text x="642.00" y="340.40" font-size="6.75" text-anchor="end" fill="#111" stroke="#111" stroke-width="0.06" >64 Gi</text><line x1="645.60" y1="323.07" x2="647.60" y2="323.07" stroke="#3a3a3a" stroke-width="0.6"/><text x="642.00" y="325.38" font-size="6.75" text-anchor="end" fill="#111" stroke="#111" stroke-width="0.06" >80 Gi</text><line x1="645.60" y1="308.05" x2="647.60" y2="308.05" stroke="#3a3a3a" stroke-width="0.6"/><text x="642.00" y="310.35" font-size="6.75" text-anchor="end" fill="#111" stroke="#111" stroke-width="0.06" >96 Gi</text><line x1="645.60" y1="293.02" x2="647.60" y2="293.02" stroke="#3a3a3a" stroke-width="0.6"/><text x="642.00" y="295.32" font-size="6.75" text-anchor="end" fill="#111" stroke="#111" stroke-width="0.06" >112 Gi</text><line x1="645.60" y1="278.00" x2="647.60" y2="278.00" stroke="#3a3a3a" stroke-width="0.6"/><text x="644.00" y="280.30" font-size="6.75" text-anchor="end" fill="#111" stroke="#111" stroke-width="0.06" >128 Gi</text><line x1="647.60" y1="398.20" x2="647.60" y2="400.80" stroke="#3a3a3a" stroke-width="0.7"/><line x1="667.92" y1="398.20" x2="667.92" y2="400.80" stroke="#3a3a3a" stroke-width="0.7"/><line x1="693.32" y1="398.20" x2="693.32" y2="400.80" stroke="#3a3a3a" stroke-width="0.7"/><line x1="718.72" y1="398.20" x2="718.72" y2="400.80" stroke="#3a3a3a" stroke-width="0.7"/><line x1="744.12" y1="398.20" x2="744.12" y2="400.80" stroke="#3a3a3a" stroke-width="0.7"/><line x1="769.52" y1="398.20" x2="769.52" y2="400.80" stroke="#3a3a3a" stroke-width="0.7"/><line x1="794.92" y1="398.20" x2="794.92" y2="400.80" stroke="#3a3a3a" stroke-width="0.7"/><line x1="820.32" y1="398.20" x2="820.32" y2="400.80" stroke="#3a3a3a" stroke-width="0.7"/><line x1="845.72" y1="398.20" x2="845.72" y2="400.80" stroke="#3a3a3a" stroke-width="0.7"/><line x1="871.12" y1="398.20" x2="871.12" y2="400.80" stroke="#3a3a3a" stroke-width="0.7"/><line x1="896.52" y1="398.20" x2="896.52" y2="400.80" stroke="#3a3a3a" stroke-width="0.7"/><line x1="921.92" y1="398.20" x2="921.92" y2="400.80" stroke="#3a3a3a" stroke-width="0.7"/><line x1="947.32" y1="398.20" x2="947.32" y2="400.80" stroke="#3a3a3a" stroke-width="0.7"/><line x1="972.72" y1="398.20" x2="972.72" y2="400.80" stroke="#3a3a3a" stroke-width="0.7"/><line x1="998.12" y1="398.20" x2="998.12" y2="400.80" stroke="#3a3a3a" stroke-width="0.7"/><clipPath id="c2"><rect x="0" y="0" width="1002.2" height="609"/></clipPath><g clip-path="url(#c2)"><text x="648.30" y="409.20" font-size="6.75" text-anchor="middle" fill="#111" stroke="#111" stroke-width="0.06" >2021-11-19</text><text x="648.30" y="418.20" font-size="6.75" text-anchor="middle" fill="#111" stroke="#111" stroke-width="0.06" >10:01:00</text><text x="694.02" y="409.20" font-size="6.75" text-anchor="middle" fill="#111" stroke="#111" stroke-width="0.06" >2021-11-19</text><text x="694.02" y="418.20" font-size="6.75" text-anchor="middle" fill="#111" stroke="#111" stroke-width="0.06" >10:10:00</text><text x="744.82" y="409.20" font-size="6.75" text-anchor="middle" fill="#111" stroke="#111" stroke-width="0.06" >2021-11-19</text><text x="744.82" y="418.20" font-size="6.75" text-anchor="middle" fill="#111" stroke="#111" stroke-width="0.06" >10:20:00</text><text x="795.62" y="409.20" font-size="6.75" text-anchor="middle" fill="#111" stroke="#111" stroke-width="0.06" >2021-11-19</text><text x="795.62" y="418.20" font-size="6.75" text-anchor="middle" fill="#111" stroke="#111" stroke-width="0.06" >10:30:00</text><text x="846.42" y="409.20" font-size="6.75" text-anchor="middle" fill="#111" stroke="#111" stroke-width="0.06" >2021-11-19</text><text x="846.42" y="418.20" font-size="6.75" text-anchor="middle" fill="#111" stroke="#111" stroke-width="0.06" >10:40:00</text><text x="897.22" y="409.20" font-size="6.75" text-anchor="middle" fill="#111" stroke="#111" stroke-width="0.06" >2021-11-19</text><text x="897.22" y="418.20" font-size="6.75" text-anchor="middle" fill="#111" stroke="#111" stroke-width="0.06" >10:50:00</text><text x="948.02" y="409.20" font-size="6.75" text-anchor="middle" fill="#111" stroke="#111" stroke-width="0.06" >2021-11-19</text><text x="948.02" y="418.20" font-size="6.75" text-anchor="middle" fill="#111" stroke="#111" stroke-width="0.06" >11:00:00</text><text x="998.82" y="409.20" font-size="6.75" text-anchor="middle" fill="#111" stroke="#111" stroke-width="0.06" >2021-11-19</text><text x="998.82" y="418.20" font-size="6.75" text-anchor="middle" fill="#111" stroke="#111" stroke-width="0.06" >11:10:00</text></g><text x="620.60" y="338.40" font-size="8.6" text-anchor="middle" fill="#111" stroke="#111" stroke-width="0.06" transform="rotate(-90 620.6 338.4)">Bytes</text><line x1="230.50" y1="455.80" x2="596.30" y2="455.80" stroke="#dedee6" stroke-width="0.6"/><line x1="230.50" y1="466.75" x2="596.30" y2="466.75" stroke="#dedee6" stroke-width="0.6"/><line x1="230.50" y1="477.70" x2="596.30" y2="477.70" stroke="#dedee6" stroke-width="0.6"/><line x1="230.50" y1="488.65" x2="596.30" y2="488.65" stroke="#dedee6" stroke-width="0.6"/><line x1="230.50" y1="499.60" x2="596.30" y2="499.60" stroke="#dedee6" stroke-width="0.6"/><line x1="235.80" y1="455.80" x2="235.80" y2="510.00" stroke="#dedee6" stroke-width="0.6"/><line x1="241.10" y1="455.80" x2="241.10" y2="510.00" stroke="#dedee6" stroke-width="0.6"/><line x1="246.40" y1="455.80" x2="246.40" y2="510.00" stroke="#dedee6" stroke-width="0.6"/><line x1="251.70" y1="455.80" x2="251.70" y2="510.00" stroke="#dedee6" stroke-width="0.6"/><line x1="257.00" y1="455.80" x2="257.00" y2="510.00" stroke="#dedee6" stroke-width="0.6"/><line x1="262.30" y1="455.80" x2="262.30" y2="510.00" stroke="#dedee6" stroke-width="0.6"/><line x1="267.60" y1="455.80" x2="267.60" y2="510.00" stroke="#dedee6" stroke-width="0.6"/><line x1="272.90" y1="455.80" x2="272.90" y2="510.00" stroke="#dedee6" stroke-width="0.6"/><line x1="278.20" y1="455.80" x2="278.20" y2="510.00" stroke="#dedee6" stroke-width="0.6"/><line x1="283.50" y1="455.80" x2="283.50" y2="510.00" stroke="#dedee6" stroke-width="0.6"/><line x1="288.80" y1="455.80" x2="288.80" y2="510.00" stroke="#dedee6" stroke-width="0.6"/><line x1="294.10" y1="455.80" x2="294.10" y2="510.00" stroke="#dedee6" stroke-width="0.6"/><line x1="299.40" y1="455.80" x2="299.40" y2="510.00" stroke="#dedee6" stroke-width="0.6"/><line x1="304.70" y1="455.80" x2="304.70" y2="510.00" stroke="#dedee6" stroke-width="0.6"/><line x1="310.00" y1="455.80" x2="310.00" y2="510.00" stroke="#dedee6" stroke-width="0.6"/><line x1="315.30" y1="455.80" x2="315.30" y2="510.00" stroke="#dedee6" stroke-width="0.6"/><line x1="320.60" y1="455.80" x2="320.60" y2="510.00" stroke="#dedee6" stroke-width="0.6"/><line x1="325.90" y1="455.80" x2="325.90" y2="510.00" stroke="#dedee6" stroke-width="0.6"/><line x1="331.20" y1="455.80" x2="331.20" y2="510.00" stroke="#dedee6" stroke-width="0.6"/><line x1="336.50" y1="455.80" x2="336.50" y2="510.00" stroke="#dedee6" stroke-width="0.6"/><line x1="341.80" y1="455.80" x2="341.80" y2="510.00" stroke="#dedee6" stroke-width="0.6"/><line x1="347.10" y1="455.80" x2="347.10" y2="510.00" stroke="#dedee6" stroke-width="0.6"/><line x1="352.40" y1="455.80" x2="352.40" y2="510.00" stroke="#dedee6" stroke-width="0.6"/><line x1="357.70" y1="455.80" x2="357.70" y2="510.00" stroke="#dedee6" stroke-width="0.6"/><line x1="363.00" y1="455.80" x2="363.00" y2="510.00" stroke="#dedee6" stroke-width="0.6"/><line x1="368.30" y1="455.80" x2="368.30" y2="510.00" stroke="#dedee6" stroke-width="0.6"/><line x1="373.60" y1="455.80" x2="373.60" y2="510.00" stroke="#dedee6" stroke-width="0.6"/><line x1="378.90" y1="455.80" x2="378.90" y2="510.00" stroke="#dedee6" stroke-width="0.6"/><line x1="384.20" y1="455.80" x2="384.20" y2="510.00" stroke="#dedee6" stroke-width="0.6"/><line x1="389.50" y1="455.80" x2="389.50" y2="510.00" stroke="#dedee6" stroke-width="0.6"/><line x1="394.80" y1="455.80" x2="394.80" y2="510.00" stroke="#dedee6" stroke-width="0.6"/><line x1="400.10" y1="455.80" x2="400.10" y2="510.00" stroke="#dedee6" stroke-width="0.6"/><line x1="405.40" y1="455.80" x2="405.40" y2="510.00" stroke="#dedee6" stroke-width="0.6"/><line x1="410.70" y1="455.80" x2="410.70" y2="510.00" stroke="#dedee6" stroke-width="0.6"/><line x1="416.00" y1="455.80" x2="416.00" y2="510.00" stroke="#dedee6" stroke-width="0.6"/><line x1="421.30" y1="455.80" x2="421.30" y2="510.00" stroke="#dedee6" stroke-width="0.6"/><line x1="426.60" y1="455.80" x2="426.60" y2="510.00" stroke="#dedee6" stroke-width="0.6"/><line x1="431.90" y1="455.80" x2="431.90" y2="510.00" stroke="#dedee6" stroke-width="0.6"/><line x1="437.20" y1="455.80" x2="437.20" y2="510.00" stroke="#dedee6" stroke-width="0.6"/><line x1="442.50" y1="455.80" x2="442.50" y2="510.00" stroke="#dedee6" stroke-width="0.6"/><line x1="447.80" y1="455.80" x2="447.80" y2="510.00" stroke="#dedee6" stroke-width="0.6"/><line x1="453.10" y1="455.80" x2="453.10" y2="510.00" stroke="#dedee6" stroke-width="0.6"/><line x1="458.40" y1="455.80" x2="458.40" y2="510.00" stroke="#dedee6" stroke-width="0.6"/><line x1="463.70" y1="455.80" x2="463.70" y2="510.00" stroke="#dedee6" stroke-width="0.6"/><line x1="469.00" y1="455.80" x2="469.00" y2="510.00" stroke="#dedee6" stroke-width="0.6"/><line x1="474.30" y1="455.80" x2="474.30" y2="510.00" stroke="#dedee6" stroke-width="0.6"/><line x1="479.60" y1="455.80" x2="479.60" y2="510.00" stroke="#dedee6" stroke-width="0.6"/><line x1="484.90" y1="455.80" x2="484.90" y2="510.00" stroke="#dedee6" stroke-width="0.6"/><line x1="490.20" y1="455.80" x2="490.20" y2="510.00" stroke="#dedee6" stroke-width="0.6"/><line x1="495.50" y1="455.80" x2="495.50" y2="510.00" stroke="#dedee6" stroke-width="0.6"/><line x1="500.80" y1="455.80" x2="500.80" y2="510.00" stroke="#dedee6" stroke-width="0.6"/><line x1="506.10" y1="455.80" x2="506.10" y2="510.00" stroke="#dedee6" stroke-width="0.6"/><line x1="511.40" y1="455.80" x2="511.40" y2="510.00" stroke="#dedee6" stroke-width="0.6"/><line x1="516.70" y1="455.80" x2="516.70" y2="510.00" stroke="#dedee6" stroke-width="0.6"/><line x1="522.00" y1="455.80" x2="522.00" y2="510.00" stroke="#dedee6" stroke-width="0.6"/><line x1="527.30" y1="455.80" x2="527.30" y2="510.00" stroke="#dedee6" stroke-width="0.6"/><line x1="532.60" y1="455.80" x2="532.60" y2="510.00" stroke="#dedee6" stroke-width="0.6"/><line x1="537.90" y1="455.80" x2="537.90" y2="510.00" stroke="#dedee6" stroke-width="0.6"/><line x1="543.20" y1="455.80" x2="543.20" y2="510.00" stroke="#dedee6" stroke-width="0.6"/><line x1="548.50" y1="455.80" x2="548.50" y2="510.00" stroke="#dedee6" stroke-width="0.6"/><line x1="553.80" y1="455.80" x2="553.80" y2="510.00" stroke="#dedee6" stroke-width="0.6"/><line x1="559.10" y1="455.80" x2="559.10" y2="510.00" stroke="#dedee6" stroke-width="0.6"/><line x1="564.40" y1="455.80" x2="564.40" y2="510.00" stroke="#dedee6" stroke-width="0.6"/><line x1="569.70" y1="455.80" x2="569.70" y2="510.00" stroke="#dedee6" stroke-width="0.6"/><line x1="575.00" y1="455.80" x2="575.00" y2="510.00" stroke="#dedee6" stroke-width="0.6"/><line x1="580.30" y1="455.80" x2="580.30" y2="510.00" stroke="#dedee6" stroke-width="0.6"/><line x1="585.60" y1="455.80" x2="585.60" y2="510.00" stroke="#dedee6" stroke-width="0.6"/><line x1="590.90" y1="455.80" x2="590.90" y2="510.00" stroke="#dedee6" stroke-width="0.6"/><line x1="596.20" y1="455.80" x2="596.20" y2="510.00" stroke="#dedee6" stroke-width="0.6"/><polygon points="264.30,512 267.60,468.50 270.90,512" fill="#5a93b3" stroke="#4d7f9a" stroke-width="0.5"/><polygon points="423.30,512 426.60,462.37 429.90,512" fill="#5a93b3" stroke="#4d7f9a" stroke-width="0.5"/><polygon points="582.30,512 585.60,461.93 588.90,512" fill="#5a93b3" stroke="#4d7f9a" stroke-width="0.5"/><line x1="230.50" y1="455.80" x2="230.50" y2="510.00" stroke="#3a3a3a" stroke-width="0.7"/><line x1="228.50" y1="455.80" x2="230.50" y2="455.80" stroke="#3a3a3a" stroke-width="0.6"/><text x="226.70" y="458.10" font-size="6.75" text-anchor="end" fill="#111" stroke="#111" stroke-width="0.06" >55 M</text><line x1="228.50" y1="466.75" x2="230.50" y2="466.75" stroke="#3a3a3a" stroke-width="0.6"/><text x="226.70" y="469.05" font-size="6.75" text-anchor="end" fill="#111" stroke="#111" stroke-width="0.06" >50 M</text><line x1="228.50" y1="477.70" x2="230.50" y2="477.70" stroke="#3a3a3a" stroke-width="0.6"/><text x="226.70" y="480.00" font-size="6.75" text-anchor="end" fill="#111" stroke="#111" stroke-width="0.06" >45 M</text><line x1="228.50" y1="488.65" x2="230.50" y2="488.65" stroke="#3a3a3a" stroke-width="0.6"/><text x="226.70" y="490.95" font-size="6.75" text-anchor="end" fill="#111" stroke="#111" stroke-width="0.06" >40 M</text><line x1="228.50" y1="499.60" x2="230.50" y2="499.60" stroke="#3a3a3a" stroke-width="0.6"/><text x="226.70" y="501.90" font-size="6.75" text-anchor="end" fill="#111" stroke="#111" stroke-width="0.06" >35 M</text></svg>
<div class="t" style="top:105.76px;font-size:6.85px;color:#111;left:225.80px;">CPU usage</div>
<div class="t" style="top:105.76px;font-size:6.85px;color:#111;right:626.00px;">3.58% of 32 CPU(s)</div>
<div class="t" style="top:121.96px;font-size:6.85px;color:#111;left:224.50px;">Load average</div>
<div class="t" style="top:121.96px;font-size:6.85px;color:#111;right:626.00px;">0.80,1.57,1.54</div>
<div class="t" style="top:112.66px;font-size:6.85px;color:#111;left:419.10px;">IO delay</div>
<div class="t" style="top:112.66px;font-size:6.85px;color:#111;right:430.60px;">0.08%</div>
<div class="t" style="top:145.76px;font-size:6.85px;color:#111;left:225.60px;">RAM usage</div>
<div class="t" style="top:145.76px;font-size:6.85px;color:#111;right:626.00px;">54.18% (68.15 GiB of 125.80 GiB)</div>
<div class="t" style="top:161.96px;font-size:6.85px;color:#111;left:224.00px;">/ HD space</div>
<div class="t" style="top:161.96px;font-size:6.85px;color:#111;right:626.00px;">12.59% (11.83 GiB of 93.99 GiB)</div>
<div class="t" style="top:145.86px;font-size:6.85px;color:#111;left:408.80px;">KSM sharing</div>
<div class="t" style="top:145.86px;font-size:6.85px;color:#111;right:430.60px;">0 B</div>
<div class="t" style="top:161.96px;font-size:6.85px;color:#111;left:419.10px;">SWAP usage</div>
<div class="t" style="top:161.96px;font-size:6.85px;color:#111;right:430.60px;">7.27% (595.50 MiB of 8.00 GiB)</div>
<div class="t" style="top:188.46px;font-size:6.85px;color:#111;left:213.20px;">CPU(s)</div>
<div class="t" style="top:188.46px;font-size:6.85px;color:#111;right:430.60px;">32 x AMD EPYC 7351P 16-Core Processor (1 Socket)</div>
<div class="t" style="top:201.96px;font-size:6.85px;color:#111;left:213.20px;">Kernel Version</div>
<div class="t" style="top:201.96px;font-size:6.85px;color:#111;right:430.60px;">Linux 5.13.19-1-pve #1 SMP PVE 5.13.19-2 (Tue, 09 Nov 2021 12:59:38 +0100)</div>
<div class="t" style="top:215.26px;font-size:6.85px;color:#111;left:213.20px;">PVE Manager Version</div>
<div class="t" style="top:215.26px;font-size:6.85px;color:#111;right:430.60px;">pve-manager/7.1-5/6fe299a0</div>
<div class="t" style="top:228.06px;font-size:6.85px;color:#111;left:213.20px;">Repository Status</div>
<div class="t" style="top:228.06px;font-size:6.85px;color:#111;left:364.60px;">Proxmox VE updates</div>
<div class="t" style="top:228.06px;font-size:6.85px;color:#111;left:442.80px;">Production-ready Enterprise repository enabled</div>
<div class="r" style="left:213.50px;top:114.90px;width:184.50px;height:1.60px;background:#efefef;"></div>
<div class="r" style="left:213.50px;top:114.90px;width:6.50px;height:1.60px;background:#b0cdea;"></div>
<div class="r" style="left:408.00px;top:121.10px;width:185.40px;height:1.60px;background:#efefef;"></div>
<div class="r" style="left:408.00px;top:121.10px;width:0.30px;height:1.60px;background:#b0cdea;"></div>
<div class="r" style="left:213.50px;top:154.90px;width:184.50px;height:1.60px;background:#efefef;"></div>
<div class="r" style="left:213.50px;top:154.90px;width:99.50px;height:1.60px;background:#b0cdea;"></div>
<div class="r" style="left:213.50px;top:170.70px;width:184.50px;height:1.60px;background:#efefef;"></div>
<div class="r" style="left:213.50px;top:170.70px;width:22.50px;height:1.60px;background:#b0cdea;"></div>
<div class="r" style="left:408.00px;top:170.60px;width:185.40px;height:1.60px;background:#efefef;"></div>
<div class="r" style="left:408.00px;top:170.60px;width:13.50px;height:1.60px;background:#b0cdea;"></div>
<div class="r" style="left:8.00px;top:505.40px;width:1011.00px;height:2.20px;background:#d0d0d0;"></div>
<div class="r" style="left:10.50px;top:507.60px;width:1005.70px;height:91.60px;background:#fff;"></div>
<div class="r" style="left:10.50px;top:507.60px;width:1005.70px;height:19.70px;background:#f5f5f5;"></div>
<div class="r" style="left:16.00px;top:511.00px;width:27.20px;height:12.20px;background:#3892d4;border-radius:1.5px;"></div>
<div class="t" style="top:514.62px;font-size:6.4px;color:#fff;left:20.60px;">Tasks</div>
<div class="t" style="top:514.48px;font-size:6.82px;color:#111;left:53.80px;">Cluster log</div>
<div class="r" style="left:10.50px;top:527.30px;width:1005.70px;height:15.90px;background:#fff;"></div>
<div class="r" style="left:10.50px;top:527.30px;width:79.20px;height:15.90px;background:#eef0f2;"></div>
<div class="r" style="left:10.50px;top:542.80px;width:1005.70px;height:0.70px;background:#e2e2e2;"></div>
<div class="r" style="left:89.70px;top:527.30px;width:0.60px;height:15.90px;background:#e2e2e2;"></div>
<div class="r" style="left:168.80px;top:527.30px;width:0.60px;height:15.90px;background:#e2e2e2;"></div>
<div class="r" style="left:222.00px;top:527.30px;width:0.60px;height:15.90px;background:#e2e2e2;"></div>
<div class="r" style="left:300.70px;top:527.30px;width:0.60px;height:15.90px;background:#e2e2e2;"></div>
<div class="r" style="left:902.30px;top:527.30px;width:0.60px;height:15.90px;background:#e2e2e2;"></div>
<div class="r" style="left:1007.00px;top:527.30px;width:0.60px;height:15.90px;background:#e2e2e2;"></div>
<div class="t" style="top:533.10px;font-size:6.6px;color:#9a9a9a;left:16.30px;">Start Time</div>
<div class="t" style="top:533.10px;font-size:6.6px;color:#9a9a9a;left:95.30px;">End Time</div>
<div class="t" style="top:533.10px;font-size:6.6px;color:#9a9a9a;left:174.40px;">Node</div>
<div class="t" style="top:533.10px;font-size:6.6px;color:#9a9a9a;left:227.00px;">User name</div>
<div class="t" style="top:533.10px;font-size:6.6px;color:#9a9a9a;left:305.60px;">Description</div>
<div class="t" style="top:533.10px;font-size:6.6px;color:#9a9a9a;left:908.00px;">Status</div>
<div class="r" style="left:10.50px;top:558.00px;width:996.50px;height:0.60px;background:#ececec;"></div>
<div class="t" style="top:548.68px;font-size:6.82px;color:#111;left:16.30px;">Nov 19 03:28:35</div>
<div class="t" style="top:548.68px;font-size:6.82px;color:#111;left:95.30px;">Nov 19 03:28:38</div>
<div class="t" style="top:548.68px;font-size:6.82px;color:#111;left:174.40px;">mits7</div>
<div class="t" style="top:548.68px;font-size:6.82px;color:#111;left:227.00px;">root@pam</div>
<div class="t" style="top:548.68px;font-size:6.82px;color:#111;left:305.60px;">Update package database</div>
<div class="t" style="top:548.68px;font-size:6.82px;color:#111;left:908.00px;">OK</div>
<div class="r" style="left:10.50px;top:558.50px;width:996.50px;height:13.60px;background:#f8f8f8;"></div>
<div class="r" style="left:10.50px;top:571.80px;width:996.50px;height:0.60px;background:#ececec;"></div>
<div class="t" style="top:562.48px;font-size:6.82px;color:#111;left:16.30px;">Nov 19 02:36:46</div>
<div class="t" style="top:562.48px;font-size:6.82px;color:#111;left:95.30px;">Nov 19 02:36:50</div>
<div class="t" style="top:562.48px;font-size:6.82px;color:#111;left:174.40px;">mits6</div>
<div class="t" style="top:562.48px;font-size:6.82px;color:#111;left:227.00px;">root@pam</div>
<div class="t" style="top:562.48px;font-size:6.82px;color:#111;left:305.60px;">Update package database</div>
<div class="t" style="top:562.48px;font-size:6.82px;color:#111;left:908.00px;">OK</div>
<div class="r" style="left:10.50px;top:585.40px;width:996.50px;height:0.60px;background:#ececec;"></div>
<div class="t" style="top:576.08px;font-size:6.82px;color:#111;left:16.30px;">Nov 19 02:21:33</div>
<div class="t" style="top:576.08px;font-size:6.82px;color:#111;left:95.30px;">Nov 19 02:21:36</div>
<div class="t" style="top:576.08px;font-size:6.82px;color:#111;left:174.40px;">mits8</div>
<div class="t" style="top:576.08px;font-size:6.82px;color:#111;left:227.00px;">root@pam</div>
<div class="t" style="top:576.08px;font-size:6.82px;color:#111;left:305.60px;">Update package database</div>
<div class="t" style="top:576.08px;font-size:6.82px;color:#111;left:908.00px;">OK</div>
<div class="r" style="left:10.50px;top:585.70px;width:996.50px;height:13.50px;background:#f8f8f8;"></div>
<div class="t" style="top:589.68px;font-size:6.82px;color:#111;left:16.30px;">Nov 18 22:30:02</div>
<div class="t" style="top:589.68px;font-size:6.82px;color:#111;left:95.30px;">Nov 18 22:33:44</div>
<div class="t" style="top:589.68px;font-size:6.82px;color:#111;left:174.40px;">mits7</div>
<div class="t" style="top:589.68px;font-size:6.82px;color:#111;left:227.00px;">root@pam</div>
<div class="t" style="top:589.68px;font-size:6.82px;color:#111;left:305.60px;">Backup Job</div>
<div class="t" style="top:589.68px;font-size:6.82px;color:#111;left:908.00px;">OK</div>
<div class="r" style="left:1007.30px;top:543.50px;width:7.20px;height:55.70px;background:#f1f1f1;"></div>
<div class="r" style="left:1008.00px;top:552.00px;width:5.80px;height:16.70px;background:#c1c1c1;"></div>
<svg class="s" style="left:0;top:0" width="1024" height="609" viewBox="0 0 1024 609"><circle cx="894.8" cy="85.20" r="2.7" fill="#8fa557"/><circle cx="947.2" cy="85.20" r="2.7" fill="#2e6a8a"/><circle cx="993.2" cy="85.00" r="4" fill="#fafafa" stroke="#ececec" stroke-width="0.6"/><circle cx="530" cy="262.85" r="2.7" fill="#8fa557"/><circle cx="591.9" cy="262.65" r="4" fill="#fafafa" stroke="#ececec" stroke-width="0.6"/><circle cx="905.6" cy="262.60" r="2.7" fill="#8fa557"/><circle cx="938.1" cy="262.60" r="2.7" fill="#2e6a8a"/><circle cx="994.1" cy="262.40" r="4" fill="#fafafa" stroke="#ececec" stroke-width="0.6"/><circle cx="519.8" cy="441.15" r="2.7" fill="#8fa557"/><circle cx="552.8" cy="441.15" r="2.7" fill="#2e6a8a"/><circle cx="591.9" cy="440.95" r="4" fill="#fafafa" stroke="#ececec" stroke-width="0.6"/><g transform="translate(123.20,55.30) scale(0.5143)" fill="#222" stroke="#222"><circle cx="5.6" cy="5.6" r="4" fill="none" stroke-width="2.5"/><line x1="8.6" y1="8.6" x2="12.6" y2="12.6" stroke-width="2.8" stroke-linecap="round"/></g><g transform="translate(123.20,70.90) scale(0.5143)" fill="#111" stroke="#111"><path d="M3.5 1 H13 L11 12.5 H1.5 Z" stroke="none"/><path d="M1.5 12.5 L1.2 13.5 H11" fill="none" stroke-width="1"/></g><g transform="translate(123.20,86.90) scale(0.5143)" fill="#222" stroke="#222"><rect x="1.5" y="1.5" width="11" height="11" rx="2" fill="none" stroke-width="2.1"/></g><g transform="translate(123.20,102.70) scale(0.5143)" fill="#222" stroke="#222"><polyline points="1.5,4 5,7.5 1.5,11" fill="none" stroke-width="1.9"/><line x1="6.5" y1="12" x2="12" y2="12" stroke-width="1.7"/></g><g transform="translate(123.20,118.60) scale(0.5143)" fill="#222" stroke="#222"><circle cx="5" cy="8" r="3.8" stroke="none"/><circle cx="5" cy="8" r="1.4" fill="#f3f4f4" stroke="none"/><circle cx="11" cy="3.5" r="2.3" stroke="none"/><circle cx="11" cy="11.8" r="2.3" stroke="none"/></g><g transform="translate(131.60,134.70) scale(0.5143)" fill="#222" stroke="#222"><line x1="1" y1="4.5" x2="11" y2="4.5" stroke-width="2"/><polygon points="10,1.5 13.5,4.5 10,7.5" stroke="none"/><line x1="3" y1="10" x2="13" y2="10" stroke-width="2"/><polygon points="4,7 0.5,10 4,13" stroke="none"/></g><g transform="translate(131.60,150.50) scale(0.5143)" fill="#222" stroke="#222"><circle cx="7" cy="7" r="5.8" stroke="none"/></g><g transform="translate(131.60,166.40) scale(0.5143)" fill="#222" stroke="#222"><circle cx="7" cy="7" r="6" stroke="none"/><path d="M4 4 Q6 6 4 9 M9 3 Q11 5 10 7" fill="none" stroke="#f3f4f4" stroke-width="1.2"/></g><g transform="translate(131.60,182.20) scale(0.5143)" fill="#222" stroke="#222"><circle cx="7" cy="7" r="6" stroke="none"/><path d="M4 4 Q6 6 4 9 M9 3 Q11 5 10 7" fill="none" stroke="#f3f4f4" stroke-width="1.2"/></g><g transform="translate(131.60,198.00) scale(0.5143)" fill="#222" stroke="#222"><circle cx="7" cy="7" r="5.4" fill="none" stroke-width="1.8"/><polyline points="7,3.8 7,7.3 9.5,8.5" fill="none" stroke-width="1.4"/></g><g transform="translate(131.60,213.80) scale(0.5143)" fill="#222" stroke="#222"><rect x="0.8" y="1.5" width="12.4" height="11" rx="1" stroke="none"/><rect x="1.8" y="5" width="2" height="6.5" fill="#f3f4f4" stroke="none"/><line x1="1.5" y1="5" x2="12.5" y2="5" stroke="#f3f4f4" stroke-width="0.9"/><line x1="1.5" y1="8" x2="12.5" y2="8" stroke="#f3f4f4" stroke-width="0.9"/><line x1="1.5" y1="10.8" x2="12.5" y2="10.8" stroke="#f3f4f4" stroke-width="0.9"/></g><g transform="translate(123.20,229.70) scale(0.5143)" fill="#222" stroke="#222"><path d="M11.5 5 A5 5 0 0 0 2.5 5.5" fill="none" stroke-width="2"/><polygon points="9.5,4.8 13.2,6.2 13.2,2" stroke="none"/><path d="M2.5 9 A5 5 0 0 0 11.5 8.5" fill="none" stroke-width="2"/><polygon points="4.5,9.2 0.8,7.8 0.8,12" stroke="none"/></g><g transform="translate(131.60,245.60) scale(0.5143)" fill="#222" stroke="#222"><rect x="4.5" y="1" width="8" height="9" rx="1" fill="none" stroke-width="1.4"/><rect x="1.5" y="4" width="8" height="9" rx="1" fill="#f3f4f4" stroke-width="1.4"/><path d="M3.5 9.5 L5.5 11 L8 7" fill="none" stroke-width="1.1"/></g><g transform="translate(123.20,261.50) scale(0.5143)" fill="#222" stroke="#222"><path d="M7 1 L12.5 3 V7 C12.5 10 10 12.3 7 13.5 C4 12.3 1.5 10 1.5 7 V3 Z" fill="none" stroke-width="1.6"/><path d="M7 1.8 V12.7 C4.5 11.6 2.3 9.8 2.3 7 V3.6 Z" stroke="none"/></g><g transform="translate(123.20,277.30) scale(0.5143)" fill="#222" stroke="#222"><path d="M1.5 8 L3.5 2.5 H10.5 L12.5 8 V12 H1.5 Z" fill="none" stroke-width="1.5"/><line x1="1.5" y1="8" x2="12.5" y2="8" stroke-width="1.3"/></g><g transform="translate(131.60,293.20) scale(0.5143)" fill="#222" stroke="#222"><rect x="1.5" y="1.5" width="11" height="11" rx="1.2" stroke="none"/></g><g transform="translate(131.60,309.00) scale(0.5143)" fill="#222" stroke="#222"><rect x="1.5" y="1.5" width="11" height="11" rx="2" fill="none" stroke-width="2.1"/></g><g transform="translate(131.60,324.90) scale(0.5143)" fill="#222" stroke="#222"><path d="M1 3 H5.5 L7 4.5 H13 V12 H1 Z" stroke="none"/></g><g transform="translate(131.60,340.70) scale(0.5143)" fill="#222" stroke="#222"><rect x="1" y="1" width="5.3" height="5.3" stroke="none"/><rect x="7.7" y="1" width="5.3" height="5.3" stroke="none"/><rect x="1" y="7.7" width="5.3" height="5.3" stroke="none"/><rect x="7.7" y="7.7" width="5.3" height="5.3" stroke="none"/></g><g transform="translate(123.20,356.60) scale(0.5143)" fill="#222" stroke="#222"><circle cx="7" cy="7" r="6.2" stroke="none"/><path d="M4.5 10 A3.2 3.2 0 1 1 9.5 10" fill="none" stroke="#f3f4f4" stroke-width="1.1"/><circle cx="7" cy="7.2" r="1.3" fill="#f3f4f4" stroke="none"/></g><g transform="translate(123.20,372.40) scale(0.5143)" fill="#222" stroke="#222"><path d="M3 11 V4 H9" fill="none" stroke-width="1.8"/><polygon points="0.5,8.5 3,12 5.5,8.5" stroke="none"/><path d="M11 3 V10 H5" fill="none" stroke-width="1.8"/><polygon points="8.5,5.5 11,2 13.5,5.5" stroke="none"/></g><g transform="translate(123.20,388.30) scale(0.5143)" fill="#222" stroke="#222"><rect x="0.8" y="1.5" width="12.4" height="11" rx="1" stroke="none"/><rect x="1.8" y="5" width="2" height="6.5" fill="#f3f4f4" stroke="none"/><line x1="1.5" y1="5" x2="12.5" y2="5" stroke="#f3f4f4" stroke-width="0.9"/><line x1="1.5" y1="8" x2="12.5" y2="8" stroke="#f3f4f4" stroke-width="0.9"/><line x1="1.5" y1="10.8" x2="12.5" y2="10.8" stroke="#f3f4f4" stroke-width="0.9"/></g><g transform="translate(123.20,404.10) scale(0.5143)" fill="#222" stroke="#222"><circle cx="7" cy="7" r="6.4" stroke="none"/><path d="M7 0.5 V13.5 M0.5 7 H13.5" stroke="#f3f4f4" stroke-width="1.6"/><circle cx="7" cy="7" r="2.2" stroke="none"/></g><g transform="translate(185.50,119.60) scale(0.3714)" fill="#c4c4c4" stroke="#c4c4c4"><polyline points="2,4.5 7,9.5 12,4.5" fill="none" stroke-width="1.4"/></g><g transform="translate(185.50,230.70) scale(0.3714)" fill="#c4c4c4" stroke="#c4c4c4"><polyline points="2,4.5 7,9.5 12,4.5" fill="none" stroke-width="1.4"/></g><g transform="translate(185.50,262.50) scale(0.3714)" fill="#c4c4c4" stroke="#c4c4c4"><polyline points="4.5,2 9.5,7 4.5,12" fill="none" stroke-width="1.4"/></g><g transform="translate(185.50,278.30) scale(0.3714)" fill="#c4c4c4" stroke="#c4c4c4"><polyline points="2,4.5 7,9.5 12,4.5" fill="none" stroke-width="1.4"/></g><g transform="translate(185.50,357.60) scale(0.3714)" fill="#c4c4c4" stroke="#c4c4c4"><polyline points="4.5,2 9.5,7 4.5,12" fill="none" stroke-width="1.4"/></g><g transform="translate(13.50,50.40) scale(0.2857)" fill="#c8c8c8" stroke="#c8c8c8"><line x1="2" y1="7" x2="12" y2="7" stroke-width="1.5"/></g><g transform="translate(22.20,62.40) scale(0.2857)" fill="#c8c8c8" stroke="#c8c8c8"><polyline points="4.5,2 9.5,7 4.5,12" fill="none" stroke-width="1.4"/></g><g transform="translate(22.20,74.50) scale(0.2857)" fill="#c8c8c8" stroke="#c8c8c8"><polyline points="4.5,2 9.5,7 4.5,12" fill="none" stroke-width="1.4"/></g><g transform="translate(22.20,86.60) scale(0.2857)" fill="#c8c8c8" stroke="#c8c8c8"><polyline points="4.5,2 9.5,7 4.5,12" fill="none" stroke-width="1.4"/></g><g fill="#4a4a4a"><rect x="19.4" y="48.70" width="8.5" height="2.0"/><rect x="19.4" y="51.30" width="8.5" height="2.0"/><rect x="19.4" y="53.90" width="8.5" height="2.0"/></g><rect x="21.9" y="48.5" width="0.6" height="7.6" fill="#fff"/><rect x="28.2" y="60.20" width="5.6" height="8.4" fill="#555"/><rect x="33.3" y="62.40" width="2.6" height="6.2" fill="#555"/><rect x="29.3" y="61.20" width="1.2" height="1.2" fill="#aaa"/><rect x="31.3" y="61.20" width="1.2" height="1.2" fill="#aaa"/><circle cx="35.6" cy="66.40" r="2.6" fill="#2fb34f"/><polyline points="34.3,66.40 35.3,67.40 36.9,65.40" fill="none" stroke="#fff" stroke-width="0.7"/><rect x="28.2" y="72.30" width="5.6" height="8.4" fill="#555"/><rect x="33.3" y="74.50" width="2.6" height="6.2" fill="#555"/><rect x="29.3" y="73.30" width="1.2" height="1.2" fill="#aaa"/><rect x="31.3" y="73.30" width="1.2" height="1.2" fill="#aaa"/><circle cx="35.6" cy="78.50" r="2.6" fill="#2fb34f"/><polyline points="34.3,78.50 35.3,79.50 36.9,77.50" fill="none" stroke="#fff" stroke-width="0.7"/><rect x="28.2" y="84.40" width="5.6" height="8.4" fill="#555"/><rect x="33.3" y="86.60" width="2.6" height="6.2" fill="#555"/><rect x="29.3" y="85.40" width="1.2" height="1.2" fill="#aaa"/><rect x="31.3" y="85.40" width="1.2" height="1.2" fill="#aaa"/><circle cx="35.6" cy="90.60" r="2.6" fill="#2fb34f"/><polyline points="34.3,90.60 35.3,91.60 36.9,89.60" fill="none" stroke="#fff" stroke-width="0.7"/><g transform="translate(28.00,96.50) scale(0.6286)" fill="#555" stroke="#555"><path d="M1 1.5 H6 L12 7.5 L7.5 12 L1 5.5 Z" stroke="none"/><circle cx="3.4" cy="3.9" r="1" fill="#fff" stroke="none"/><path d="M8 1.5 L13.5 7.5 L9.5 11.5" fill="none" stroke-width="1.3"/></g><g transform="translate(28.00,108.60) scale(0.6286)" fill="#555" stroke="#555"><path d="M1 1.5 H6 L12 7.5 L7.5 12 L1 5.5 Z" stroke="none"/><circle cx="3.4" cy="3.9" r="1" fill="#fff" stroke="none"/><path d="M8 1.5 L13.5 7.5 L9.5 11.5" fill="none" stroke-width="1.3"/></g><g transform="translate(107.30,34.20) scale(0.3286)" fill="#bbb" stroke="#bbb"><polyline points="2,4.5 7,9.5 12,4.5" fill="none" stroke-width="1.4"/></g><g transform="translate(214.60,105.00) scale(0.5286)" fill="#111" stroke="#111"><rect x="2" y="2" width="10" height="10" rx="1.5" stroke="none"/><rect x="4.5" y="4.5" width="5" height="5" fill="#fff" stroke="none"/><rect x="5.5" y="5.5" width="3" height="3" stroke="none"/><path d="M4 0.5 V2 M7 0.5 V2 M10 0.5 V2 M4 12 V13.5 M7 12 V13.5 M10 12 V13.5 M0.5 4 H2 M0.5 7 H2 M0.5 10 H2 M12 4 H13.5 M12 7 H13.5 M12 10 H13.5" stroke-width="1"/></g><g transform="translate(214.20,121.20) scale(0.5143)" fill="#111" stroke="#111"><rect x="1" y="2" width="12" height="10" stroke="none"/><path d="M2.5 4.5 H11.5 M2.5 7 H8 M2.5 9.5 H10" stroke="#fff" stroke-width="1"/></g><g transform="translate(409.60,112.20) scale(0.4571)" fill="#222" stroke="#222"><circle cx="7" cy="7" r="5.4" fill="none" stroke-width="1.8"/><polyline points="7,3.8 7,7.3 9.5,8.5" fill="none" stroke-width="1.4"/></g><g transform="translate(214.00,145.20) scale(0.5714)" fill="#222" stroke="#222"><rect x="0.5" y="4" width="13" height="6" stroke="none"/><path d="M3 5.2 V8.8 M5.5 5.2 V8.8 M8 5.2 V8.8 M10.5 5.2 V8.8" stroke="#fff" stroke-width="1"/></g><g transform="translate(214.20,161.40) scale(0.5000)" fill="#333" stroke="#333"><path d="M1.5 8 L3.5 2.5 H10.5 L12.5 8 V12 H1.5 Z" fill="none" stroke-width="1.5"/><line x1="1.5" y1="8" x2="12.5" y2="8" stroke-width="1.3"/></g><g transform="translate(409.80,161.60) scale(0.4571)" fill="#111" stroke="#111"><path d="M11.5 5 A5 5 0 0 0 2.5 5.5" fill="none" stroke-width="2"/><polygon points="9.5,4.8 13.2,6.2 13.2,2" stroke="none"/><path d="M2.5 9 A5 5 0 0 0 11.5 8.5" fill="none" stroke-width="2"/><polygon points="4.5,9.2 0.8,7.8 0.8,12" stroke="none"/></g><circle cx="358.3" cy="230.9" r="3.2" fill="#21b54a"/><polyline points="356.70,231.0 357.90,232.2 359.90,229.6" fill="none" stroke="#fff" stroke-width="0.9"/><circle cx="436.4" cy="230.9" r="3.2" fill="#21b54a"/><polyline points="434.80,231.0 436.00,232.2 438.00,229.6" fill="none" stroke="#fff" stroke-width="0.9"/><g transform="translate(587.60,227.80) scale(0.4429)" fill="#222" stroke="#222"><polyline points="4,1.5 9.5,7 4,12.5" fill="none" stroke-width="2.8"/></g><g transform="translate(798.40,17.00) scale(0.4571)" fill="#555" stroke="#555"><path d="M3.5 1 H13 L11 12.5 H1.5 Z" stroke="none"/><path d="M1.5 12.5 L1.2 13.5 H11" fill="none" stroke-width="1"/></g><g transform="translate(860.90,16.60) scale(0.5571)" fill="#fff" stroke="#fff"><rect x="1" y="1.5" width="12" height="8" rx="0.8" fill="none" stroke-width="1.5"/><path d="M5 13 H9 L8 9.5 H6 Z" stroke="none"/></g><g transform="translate(912.20,16.60) scale(0.5286)" fill="#fff" stroke="#fff"><path d="M7 1 L13 3.5 V10.5 L7 13 L1 10.5 V3.5 Z" stroke="none"/><path d="M1.5 3.8 L7 6.2 L12.5 3.8 M7 6.2 V12.5" fill="none" stroke="#3892d4" stroke-width="1"/></g><g transform="translate(963.40,16.80) scale(0.4571)" fill="#fff" stroke="#fff"><circle cx="7" cy="4" r="3" stroke="none"/><path d="M1.5 13 C1.5 8 4 7.5 7 7.5 C10 7.5 12.5 8 12.5 13 Z" stroke="none"/></g><g transform="translate(1006.70,18.30) scale(0.3143)" fill="#ccc" stroke="#ccc"><polyline points="2,4.5 7,9.5 12,4.5" fill="none" stroke-width="1.4"/></g><g transform="translate(778.20,35.80) scale(0.5000)" fill="#444" stroke="#444"><path d="M3 4 A5 5 0 1 1 2.5 9" fill="none" stroke-width="1.8"/><polygon points="0.5,1.5 5.5,1.5 1,6" stroke="none"/></g><g transform="translate(820.60,35.60) scale(0.5286)" fill="#444" stroke="#444"><path d="M4 3.5 A5 5 0 1 0 10 3.5" fill="none" stroke-width="1.8"/><line x1="7" y1="1" x2="7" y2="7" stroke-width="1.8"/></g><g transform="translate(871.80,36.20) scale(0.4429)" fill="#999" stroke="#999"><polyline points="1.5,4 5,7.5 1.5,11" fill="none" stroke-width="1.9"/><line x1="6.5" y1="12" x2="12" y2="12" stroke-width="1.7"/></g><g transform="translate(903.40,37.00) scale(0.3000)" fill="#bbb" stroke="#bbb"><polyline points="2,4.5 7,9.5 12,4.5" fill="none" stroke-width="1.4"/></g><g fill="#666"><circle cx="922" cy="36.6" r="0.75"/><circle cx="922" cy="39.3" r="0.75"/><circle cx="922" cy="42" r="0.75"/></g><g transform="translate(967.80,37.00) scale(0.3000)" fill="#bbb" stroke="#bbb"><polyline points="2,4.5 7,9.5 12,4.5" fill="none" stroke-width="1.4"/></g><g transform="translate(984.00,36.10) scale(0.4500)" fill="#444" stroke="#444"><circle cx="7" cy="7" r="6.2" stroke="none"/><text x="7" y="10.6" font-size="10" font-weight="bold" text-anchor="middle" fill="#f5f5f5" stroke="none" font-family="Liberation Sans">?</text></g><g transform="translate(1003.00,57.40) scale(0.3286)" fill="#bbb" stroke="#bbb"><polyline points="2,4.5 7,9.5 12,4.5" fill="none" stroke-width="1.4"/></g><polyline points="13.0,15.6 18.4,19.8 13.0,24.1" fill="none" stroke="#ea9440" stroke-width="3.4" stroke-linejoin="miter"/><polyline points="25.6,15.6 20.2,19.8 25.6,24.1" fill="none" stroke="#ea9440" stroke-width="3.4" stroke-linejoin="miter"/><polyline points="15.0,13.9 19.3,17.9 23.6,13.9" fill="none" stroke="#111" stroke-width="2.3"/><polyline points="15.0,25.9 19.3,21.9 23.6,25.9" fill="none" stroke="#111" stroke-width="2.3"/><path d="M29.85 24.2 V17.05 H35.15 Q36.75 17.05 36.75 18.65 V19.30 Q36.75 20.90 35.15 20.90 H29.85 M40.35 24.2 V17.05 H44.95 Q46.55 17.05 46.55 18.65 V19.30 Q46.55 20.90 44.95 20.90 H40.35 M44.00 20.9 L47.20 24.2 M51.65 17.05 H54.65 Q56.25 17.05 56.25 18.65 V21.55 Q56.25 23.15 54.65 23.15 H51.65 Q50.05 23.15 50.05 21.55 V18.65 Q50.05 17.05 51.65 17.05 Z M83.15 17.05 H86.45 Q88.05 17.05 88.05 18.65 V21.55 Q88.05 23.15 86.45 23.15 H83.15 Q81.55 23.15 81.55 21.55 V18.65 Q81.55 17.05 83.15 17.05 Z M69.25 24.2 V17.05 L73.45 21.20 L77.65 17.05 V24.2" fill="none" stroke="#151515" stroke-width="2.1" stroke-linejoin="miter"/><path d="M59.90 16.5 L65.60 23.6 M65.60 16.5 L59.90 23.6" stroke="#e98e36" stroke-width="3.0" fill="none"/><path d="M91.70 16.5 L98.20 23.6 M98.20 16.5 L91.70 23.6" stroke="#e98e36" stroke-width="3.0" fill="none"/><g transform="translate(48.60,532.60) scale(0.4000)" fill="#bbb" stroke="#bbb"><line x1="7" y1="1" x2="7" y2="12" stroke-width="1.5"/><polyline points="3,8.5 7,12.5 11,8.5" fill="none" stroke-width="1.5"/></g><g transform="translate(1008.50,546.00) scale(0.2857)" fill="#aaa" stroke="#aaa"><polygon points="2,10 7,4 12,10" stroke="none"/></g><g transform="translate(1008.50,593.00) scale(0.2857)" fill="#666" stroke="#666"><polygon points="2,4 7,10 12,4" stroke="none"/></g><g transform="translate(1010.00,72.60) scale(0.2857)" fill="#aaa" stroke="#aaa"><polygon points="2,10 7,4 12,10" stroke="none"/></g><g transform="translate(1010.00,497.80) scale(0.2857)" fill="#666" stroke="#666"><polygon points="2,4 7,10 12,4" stroke="none"/></g></svg>
</div></body></html>
